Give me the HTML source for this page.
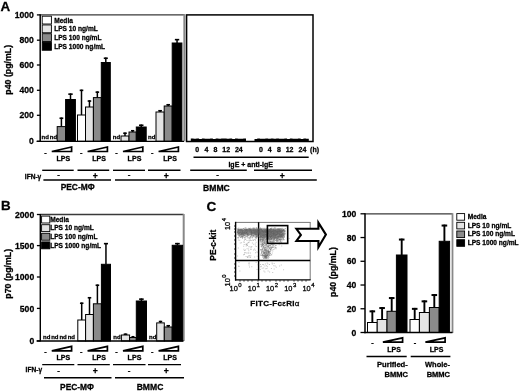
<!DOCTYPE html>
<html><head><meta charset="utf-8"><style>
html,body{margin:0;padding:0;background:#fff;width:520px;height:392px;overflow:hidden}
svg{display:block;filter:grayscale(1)}
text{font-family:"Liberation Sans", sans-serif;fill:#000;stroke:#000;stroke-width:0.28px}
</style></head><body>
<svg width="520" height="392" viewBox="0 0 520 392">
<text x="0.6" y="10.6" font-size="13.4" text-anchor="start" font-weight="bold" >A</text>
<line x1="40.5" y1="14.9" x2="184.5" y2="14.9" stroke="#3a3a3a" stroke-width="1.3"/>
<line x1="184.4" y1="14.2" x2="184.4" y2="141.4" stroke="#888" stroke-width="2.1"/>
<line x1="36.9" y1="141.3" x2="40.5" y2="141.3" stroke="#000" stroke-width="1.3"/>
<text x="33.8" y="144.4" font-size="8.6" text-anchor="end" font-weight="bold" >0</text>
<line x1="36.9" y1="115.3" x2="40.5" y2="115.3" stroke="#000" stroke-width="1.3"/>
<text x="33.8" y="118.39999999999999" font-size="8.6" text-anchor="end" font-weight="bold" >200</text>
<line x1="36.9" y1="90.3" x2="40.5" y2="90.3" stroke="#000" stroke-width="1.3"/>
<text x="33.8" y="93.39999999999999" font-size="8.6" text-anchor="end" font-weight="bold" >400</text>
<line x1="36.9" y1="65.0" x2="40.5" y2="65.0" stroke="#000" stroke-width="1.3"/>
<text x="33.8" y="68.1" font-size="8.6" text-anchor="end" font-weight="bold" >600</text>
<line x1="36.9" y1="40.2" x2="40.5" y2="40.2" stroke="#000" stroke-width="1.3"/>
<text x="33.8" y="43.300000000000004" font-size="8.6" text-anchor="end" font-weight="bold" >800</text>
<line x1="36.9" y1="14.9" x2="40.5" y2="14.9" stroke="#000" stroke-width="1.3"/>
<text x="33.8" y="18.0" font-size="8.6" text-anchor="end" font-weight="bold" >1000</text>
<rect x="42.2" y="16.2" width="9.2" height="7.8" fill="#ffffff" stroke="#000" stroke-width="0.9"/>
<text x="54.2" y="22.7" font-size="6.6" text-anchor="start" font-weight="bold" >Media</text>
<rect x="42.2" y="24.95" width="9.2" height="7.8" fill="#e4e4e4" stroke="#000" stroke-width="0.9"/>
<text x="54.2" y="31.45" font-size="6.6" text-anchor="start" font-weight="bold" >LPS 10 ng/mL</text>
<rect x="42.2" y="33.7" width="9.2" height="7.8" fill="#8a8a8a" stroke="#000" stroke-width="0.9"/>
<text x="54.2" y="40.2" font-size="6.6" text-anchor="start" font-weight="bold" >LPS 100 ng/mL</text>
<rect x="42.2" y="42.45" width="9.2" height="7.8" fill="#000000" stroke="#000" stroke-width="0.9"/>
<text x="54.2" y="48.95" font-size="6.6" text-anchor="start" font-weight="bold" >LPS 1000 ng/mL</text>
<line x1="61.4" y1="126.6" x2="61.4" y2="117.5" stroke="#000" stroke-width="1.5"/>
<line x1="59.51" y1="118.25" x2="63.29" y2="118.25" stroke="#000" stroke-width="1.6"/>
<rect x="57.2" y="126.6" width="8.399999999999991" height="14.700000000000017" fill="#8a8a8a" stroke="#000" stroke-width="1.0"/>
<line x1="70.5" y1="99.5" x2="70.5" y2="93.4" stroke="#000" stroke-width="1.5"/>
<line x1="68.295" y1="94.15" x2="72.705" y2="94.15" stroke="#000" stroke-width="1.6"/>
<rect x="65.6" y="99.5" width="9.800000000000011" height="41.80000000000001" fill="#000000" stroke="#000" stroke-width="1.0"/>
<line x1="81.5" y1="115.0" x2="81.5" y2="89.6" stroke="#000" stroke-width="1.5"/>
<line x1="79.7" y1="90.35" x2="83.3" y2="90.35" stroke="#000" stroke-width="1.6"/>
<rect x="77.5" y="115.0" width="8.0" height="26.30000000000001" fill="#ffffff" stroke="#000" stroke-width="1.0"/>
<line x1="89.45" y1="107.0" x2="89.45" y2="100.3" stroke="#000" stroke-width="1.5"/>
<line x1="87.6725" y1="101.05" x2="91.2275" y2="101.05" stroke="#000" stroke-width="1.6"/>
<rect x="85.5" y="107.0" width="7.900000000000006" height="34.30000000000001" fill="#e4e4e4" stroke="#000" stroke-width="1.0"/>
<line x1="97.35" y1="97.6" x2="97.35" y2="91.4" stroke="#000" stroke-width="1.5"/>
<line x1="95.57249999999999" y1="92.15" x2="99.1275" y2="92.15" stroke="#000" stroke-width="1.6"/>
<rect x="93.4" y="97.6" width="7.8999999999999915" height="43.70000000000002" fill="#8a8a8a" stroke="#000" stroke-width="1.0"/>
<line x1="105.8" y1="62.5" x2="105.8" y2="57.5" stroke="#000" stroke-width="1.5"/>
<line x1="103.77499999999999" y1="58.25" x2="107.825" y2="58.25" stroke="#000" stroke-width="1.6"/>
<rect x="101.3" y="62.5" width="9.0" height="78.80000000000001" fill="#000000" stroke="#000" stroke-width="1.0"/>
<line x1="125.0" y1="136.0" x2="125.0" y2="132.5" stroke="#000" stroke-width="1.5"/>
<line x1="123.2" y1="133.25" x2="126.8" y2="133.25" stroke="#000" stroke-width="1.6"/>
<rect x="121.0" y="136.0" width="8.0" height="5.300000000000011" fill="#e4e4e4" stroke="#000" stroke-width="1.0"/>
<line x1="132.65" y1="132.0" x2="132.65" y2="130.0" stroke="#000" stroke-width="1.5"/>
<line x1="131.0075" y1="130.75" x2="134.29250000000002" y2="130.75" stroke="#000" stroke-width="1.6"/>
<rect x="129.0" y="132.0" width="7.300000000000011" height="9.300000000000011" fill="#8a8a8a" stroke="#000" stroke-width="1.0"/>
<line x1="141.25" y1="127.0" x2="141.25" y2="124.5" stroke="#000" stroke-width="1.5"/>
<line x1="139.0225" y1="125.25" x2="143.4775" y2="125.25" stroke="#000" stroke-width="1.6"/>
<rect x="136.3" y="127.0" width="9.899999999999977" height="14.300000000000011" fill="#000000" stroke="#000" stroke-width="1.0"/>
<line x1="160.1" y1="112.0" x2="160.1" y2="110.0" stroke="#000" stroke-width="1.5"/>
<line x1="158.255" y1="110.75" x2="161.945" y2="110.75" stroke="#000" stroke-width="1.6"/>
<rect x="156.0" y="112.0" width="8.199999999999989" height="29.30000000000001" fill="#e4e4e4" stroke="#000" stroke-width="1.0"/>
<line x1="168.2" y1="106.0" x2="168.2" y2="104.0" stroke="#000" stroke-width="1.5"/>
<line x1="166.39999999999998" y1="104.75" x2="170.0" y2="104.75" stroke="#000" stroke-width="1.6"/>
<rect x="164.2" y="106.0" width="8.0" height="35.30000000000001" fill="#8a8a8a" stroke="#000" stroke-width="1.0"/>
<line x1="177.05" y1="43.0" x2="177.05" y2="38.9" stroke="#000" stroke-width="1.5"/>
<line x1="174.8675" y1="39.65" x2="179.23250000000002" y2="39.65" stroke="#000" stroke-width="1.6"/>
<rect x="172.2" y="43.0" width="9.700000000000017" height="98.30000000000001" fill="#000000" stroke="#000" stroke-width="1.0"/>
<text x="41.6" y="139.4" font-size="6.0" text-anchor="start" font-weight="bold" >nd</text>
<text x="49.8" y="139.4" font-size="6.0" text-anchor="start" font-weight="bold" >nd</text>
<text x="112.8" y="139.4" font-size="6.0" text-anchor="start" font-weight="bold" >nd</text>
<text x="148.0" y="139.4" font-size="6.0" text-anchor="start" font-weight="bold" >nd</text>
<line x1="40.2" y1="14.2" x2="40.2" y2="142.0" stroke="#000" stroke-width="1.5"/>
<line x1="36.6" y1="141.3" x2="184.0" y2="141.3" stroke="#000" stroke-width="1.3"/>
<rect x="186.6" y="14.9" width="126.4" height="126.6" fill="none" stroke="#000" stroke-width="1.5"/>
<polygon points="190.80,141.2 190.80,138.62 193.56,138.62 193.56,138.80 196.32,138.80 196.32,138.42 199.08,138.42 199.08,138.90 201.84,138.90 201.84,138.46 204.60,138.46 204.60,138.73 207.36,138.73 207.36,138.70 210.12,138.70 210.12,138.48 212.88,138.48 212.88,138.89 215.64,138.89 215.64,138.41 218.40,138.41 218.40,138.82 221.16,138.82 221.16,138.59 223.92,138.59 223.92,138.57 226.68,138.57 226.68,138.84 229.44,138.84 229.44,138.40 232.20,138.40 232.20,138.88 234.96,138.88 234.96,138.50 237.72,138.50 237.72,138.68 240.48,138.68 240.48,138.75 243.24,138.75 243.24,138.44 246.00,138.44 246.00,141.2" fill="#000"/>
<polygon points="254.50,141.2 254.50,138.90 257.21,138.90 257.21,138.43 259.93,138.43 259.93,138.78 262.64,138.78 262.64,138.65 265.36,138.65 265.36,138.52 268.07,138.52 268.07,138.87 270.79,138.87 270.79,138.40 273.50,138.40 273.50,138.86 276.22,138.86 276.22,138.54 278.94,138.54 278.94,138.63 281.65,138.63 281.65,138.80 284.37,138.80 284.37,138.42 287.08,138.42 287.08,138.90 289.80,138.90 289.80,138.46 292.51,138.46 292.51,138.73 295.23,138.73 295.23,138.70 297.94,138.70 297.94,138.48 300.66,138.48 300.66,138.89 303.37,138.89 303.37,138.41 306.09,138.41 306.09,138.82 308.80,138.82 308.80,141.2" fill="#000"/>
<text x="197.2" y="152.4" font-size="7.0" text-anchor="middle" font-weight="bold" >0</text>
<text x="206.4" y="152.4" font-size="7.0" text-anchor="middle" font-weight="bold" >4</text>
<text x="215.4" y="152.4" font-size="7.0" text-anchor="middle" font-weight="bold" >8</text>
<text x="226.2" y="152.4" font-size="7.0" text-anchor="middle" font-weight="bold" >12</text>
<text x="238.8" y="152.4" font-size="7.0" text-anchor="middle" font-weight="bold" >24</text>
<text x="261.0" y="152.4" font-size="7.0" text-anchor="middle" font-weight="bold" >0</text>
<text x="269.7" y="152.4" font-size="7.0" text-anchor="middle" font-weight="bold" >4</text>
<text x="279.0" y="152.4" font-size="7.0" text-anchor="middle" font-weight="bold" >8</text>
<text x="289.6" y="152.4" font-size="7.0" text-anchor="middle" font-weight="bold" >12</text>
<text x="302.4" y="152.4" font-size="7.0" text-anchor="middle" font-weight="bold" >24</text>
<text x="314.6" y="152.4" font-size="7.0" text-anchor="middle" font-weight="bold" >(h)</text>
<line x1="193.5" y1="157.2" x2="308.7" y2="157.2" stroke="#000" stroke-width="1.4"/>
<text x="250.7" y="167.2" font-size="7.0" text-anchor="middle" font-weight="bold" >IgE + anti-IgE</text>
<text x="45.4" y="154.6" font-size="7.4" text-anchor="middle" font-weight="bold" >-</text>
<path d="M51.8 151.5 L71.6 147.0 L71.6 151.5 Z" fill="#fff" stroke="#000" stroke-width="1.7" stroke-linejoin="miter"/>
<text x="63.3" y="160.5" font-size="7.1" text-anchor="middle" font-weight="bold" >LPS</text>
<text x="81.19999999999999" y="154.6" font-size="7.4" text-anchor="middle" font-weight="bold" >-</text>
<path d="M87.6 151.5 L107.39999999999999 147.0 L107.39999999999999 151.5 Z" fill="#fff" stroke="#000" stroke-width="1.7" stroke-linejoin="miter"/>
<text x="99.1" y="160.5" font-size="7.1" text-anchor="middle" font-weight="bold" >LPS</text>
<text x="116.6" y="154.6" font-size="7.4" text-anchor="middle" font-weight="bold" >-</text>
<path d="M123.0 151.5 L142.8 147.0 L142.8 151.5 Z" fill="#fff" stroke="#000" stroke-width="1.7" stroke-linejoin="miter"/>
<text x="134.5" y="160.5" font-size="7.1" text-anchor="middle" font-weight="bold" >LPS</text>
<text x="152.2" y="154.6" font-size="7.4" text-anchor="middle" font-weight="bold" >-</text>
<path d="M158.6 151.5 L178.39999999999998 147.0 L178.39999999999998 151.5 Z" fill="#fff" stroke="#000" stroke-width="1.7" stroke-linejoin="miter"/>
<text x="170.1" y="160.5" font-size="7.1" text-anchor="middle" font-weight="bold" >LPS</text>
<line x1="42.2" y1="170.3" x2="73.7" y2="170.3" stroke="#000" stroke-width="1.4"/>
<line x1="77.5" y1="170.3" x2="109.2" y2="170.3" stroke="#000" stroke-width="1.4"/>
<line x1="113.0" y1="170.3" x2="145.0" y2="170.3" stroke="#000" stroke-width="1.4"/>
<line x1="148.0" y1="170.3" x2="180.5" y2="170.3" stroke="#000" stroke-width="1.4"/>
<line x1="190.2" y1="170.3" x2="246.8" y2="170.3" stroke="#000" stroke-width="1.4"/>
<line x1="254.0" y1="170.3" x2="312.0" y2="170.3" stroke="#000" stroke-width="1.4"/>
<text x="24.8" y="179.0" font-size="6.6" text-anchor="start" font-weight="bold" >IFN-γ</text>
<text x="58.5" y="177.0" font-size="8.0" text-anchor="middle" font-weight="bold" >-</text>
<text x="95.3" y="178.9" font-size="8.6" text-anchor="middle" font-weight="bold" >+</text>
<text x="129.0" y="177.0" font-size="8.0" text-anchor="middle" font-weight="bold" >-</text>
<text x="166.3" y="178.9" font-size="8.6" text-anchor="middle" font-weight="bold" >+</text>
<text x="217.7" y="177.0" font-size="8.0" text-anchor="middle" font-weight="bold" >-</text>
<text x="282.3" y="178.9" font-size="8.6" text-anchor="middle" font-weight="bold" >+</text>
<line x1="43.4" y1="180.1" x2="111.0" y2="180.1" stroke="#000" stroke-width="1.5"/>
<line x1="115.0" y1="180.1" x2="316.8" y2="180.1" stroke="#000" stroke-width="1.5"/>
<text x="77.6" y="190.3" font-size="8.4" text-anchor="middle" font-weight="bold" >PEC-MΦ</text>
<text x="216.4" y="191.4" font-size="8.6" text-anchor="middle" font-weight="bold" >BMMC</text>
<text x="0" y="0" font-size="8.8" font-weight="bold" text-anchor="middle" transform="translate(10.9,69.8) rotate(-90)">p40 (pg/mL)</text>
<text x="0.9" y="210.2" font-size="13.4" text-anchor="start" font-weight="bold" >B</text>
<line x1="40.0" y1="214.5" x2="183.7" y2="214.5" stroke="#3a3a3a" stroke-width="1.3"/>
<line x1="183.7" y1="214.0" x2="183.7" y2="341.0" stroke="#888" stroke-width="2.0"/>
<line x1="36.9" y1="340.9" x2="40.0" y2="340.9" stroke="#000" stroke-width="1.3"/>
<text x="34.2" y="344.0" font-size="8.6" text-anchor="end" font-weight="bold" >0</text>
<line x1="36.9" y1="308.4" x2="40.0" y2="308.4" stroke="#000" stroke-width="1.3"/>
<text x="34.2" y="311.5" font-size="8.6" text-anchor="end" font-weight="bold" >500</text>
<line x1="36.9" y1="277.0" x2="40.0" y2="277.0" stroke="#000" stroke-width="1.3"/>
<text x="34.2" y="280.1" font-size="8.6" text-anchor="end" font-weight="bold" >1000</text>
<line x1="36.9" y1="245.6" x2="40.0" y2="245.6" stroke="#000" stroke-width="1.3"/>
<text x="34.2" y="248.7" font-size="8.6" text-anchor="end" font-weight="bold" >1500</text>
<line x1="36.9" y1="214.5" x2="40.0" y2="214.5" stroke="#000" stroke-width="1.3"/>
<text x="34.2" y="217.6" font-size="8.6" text-anchor="end" font-weight="bold" >2000</text>
<rect x="41.6" y="216.1" width="8.2" height="6.9" fill="#ffffff" stroke="#000" stroke-width="0.9"/>
<text x="50.2" y="221.7" font-size="6.6" text-anchor="start" font-weight="bold" >Media</text>
<rect x="41.6" y="224.7" width="8.2" height="6.9" fill="#e4e4e4" stroke="#000" stroke-width="0.9"/>
<text x="50.2" y="230.29999999999998" font-size="6.6" text-anchor="start" font-weight="bold" >LPS 10 ng/mL</text>
<rect x="41.6" y="233.29999999999998" width="8.2" height="6.9" fill="#8a8a8a" stroke="#000" stroke-width="0.9"/>
<text x="50.2" y="238.89999999999998" font-size="6.6" text-anchor="start" font-weight="bold" >LPS 100 ng/mL</text>
<rect x="41.6" y="241.89999999999998" width="8.2" height="6.9" fill="#000000" stroke="#000" stroke-width="0.9"/>
<text x="50.2" y="247.49999999999997" font-size="6.6" text-anchor="start" font-weight="bold" >LPS 1000 ng/mL</text>
<line x1="81.69999999999999" y1="320.0" x2="81.69999999999999" y2="302.5" stroke="#000" stroke-width="1.5"/>
<line x1="79.945" y1="303.25" x2="83.45499999999998" y2="303.25" stroke="#000" stroke-width="1.6"/>
<rect x="77.8" y="320.0" width="7.799999999999997" height="21.0" fill="#ffffff" stroke="#000" stroke-width="1.0"/>
<line x1="89.5" y1="314.5" x2="89.5" y2="297.0" stroke="#000" stroke-width="1.5"/>
<line x1="87.745" y1="297.75" x2="91.255" y2="297.75" stroke="#000" stroke-width="1.6"/>
<rect x="85.6" y="314.5" width="7.800000000000011" height="26.5" fill="#e4e4e4" stroke="#000" stroke-width="1.0"/>
<line x1="97.4" y1="303.8" x2="97.4" y2="284.5" stroke="#000" stroke-width="1.5"/>
<line x1="95.60000000000001" y1="285.25" x2="99.2" y2="285.25" stroke="#000" stroke-width="1.6"/>
<rect x="93.4" y="303.8" width="8.0" height="37.19999999999999" fill="#8a8a8a" stroke="#000" stroke-width="1.0"/>
<line x1="105.95" y1="264.3" x2="105.95" y2="242.9" stroke="#000" stroke-width="1.5"/>
<line x1="103.9025" y1="243.65" x2="107.9975" y2="243.65" stroke="#000" stroke-width="1.6"/>
<rect x="101.4" y="264.3" width="9.099999999999994" height="76.69999999999999" fill="#000000" stroke="#000" stroke-width="1.0"/>
<line x1="125.5" y1="335.0" x2="125.5" y2="333.5" stroke="#000" stroke-width="1.5"/>
<line x1="123.655" y1="334.25" x2="127.345" y2="334.25" stroke="#000" stroke-width="1.6"/>
<rect x="121.4" y="335.0" width="8.199999999999989" height="6.0" fill="#e4e4e4" stroke="#000" stroke-width="1.0"/>
<line x1="132.95" y1="337.5" x2="132.95" y2="336.0" stroke="#000" stroke-width="1.5"/>
<line x1="131.4425" y1="336.75" x2="134.45749999999998" y2="336.75" stroke="#000" stroke-width="1.6"/>
<rect x="129.6" y="337.5" width="6.700000000000017" height="3.5" fill="#8a8a8a" stroke="#000" stroke-width="1.0"/>
<line x1="141.4" y1="301.0" x2="141.4" y2="298.4" stroke="#000" stroke-width="1.5"/>
<line x1="139.10500000000002" y1="299.15" x2="143.695" y2="299.15" stroke="#000" stroke-width="1.6"/>
<rect x="136.3" y="301.0" width="10.199999999999989" height="40.0" fill="#000000" stroke="#000" stroke-width="1.0"/>
<line x1="160.5" y1="322.9" x2="160.5" y2="320.8" stroke="#000" stroke-width="1.5"/>
<line x1="158.79" y1="321.55" x2="162.21" y2="321.55" stroke="#000" stroke-width="1.6"/>
<rect x="156.7" y="322.9" width="7.600000000000023" height="18.100000000000023" fill="#e4e4e4" stroke="#000" stroke-width="1.0"/>
<line x1="168.25" y1="327.0" x2="168.25" y2="325.0" stroke="#000" stroke-width="1.5"/>
<line x1="166.4725" y1="325.75" x2="170.0275" y2="325.75" stroke="#000" stroke-width="1.6"/>
<rect x="164.3" y="327.0" width="7.899999999999977" height="14.0" fill="#8a8a8a" stroke="#000" stroke-width="1.0"/>
<line x1="177.39999999999998" y1="245.3" x2="177.39999999999998" y2="242.9" stroke="#000" stroke-width="1.5"/>
<line x1="175.05999999999997" y1="243.65" x2="179.73999999999998" y2="243.65" stroke="#000" stroke-width="1.6"/>
<rect x="172.2" y="245.3" width="10.400000000000006" height="95.69999999999999" fill="#000000" stroke="#000" stroke-width="1.0"/>
<text x="43.0" y="338.9" font-size="6.0" text-anchor="start" font-weight="bold" >nd</text>
<text x="51.2" y="338.9" font-size="6.0" text-anchor="start" font-weight="bold" >nd</text>
<text x="59.4" y="338.9" font-size="6.0" text-anchor="start" font-weight="bold" >nd</text>
<text x="67.7" y="338.9" font-size="6.0" text-anchor="start" font-weight="bold" >nd</text>
<text x="113.3" y="338.9" font-size="6.0" text-anchor="start" font-weight="bold" >nd</text>
<text x="149.0" y="338.9" font-size="6.0" text-anchor="start" font-weight="bold" >nd</text>
<line x1="40.3" y1="214.0" x2="40.3" y2="341.6" stroke="#000" stroke-width="1.4"/>
<line x1="36.6" y1="341.0" x2="183.5" y2="341.0" stroke="#000" stroke-width="1.3"/>
<text x="45.4" y="354.2" font-size="7.4" text-anchor="middle" font-weight="bold" >-</text>
<path d="M51.8 350.8 L71.6 346.4 L71.6 350.8 Z" fill="#fff" stroke="#000" stroke-width="1.7" stroke-linejoin="miter"/>
<text x="63.3" y="359.6" font-size="7.1" text-anchor="middle" font-weight="bold" >LPS</text>
<text x="81.19999999999999" y="354.2" font-size="7.4" text-anchor="middle" font-weight="bold" >-</text>
<path d="M87.6 350.8 L107.39999999999999 346.4 L107.39999999999999 350.8 Z" fill="#fff" stroke="#000" stroke-width="1.7" stroke-linejoin="miter"/>
<text x="99.1" y="359.6" font-size="7.1" text-anchor="middle" font-weight="bold" >LPS</text>
<text x="116.6" y="354.2" font-size="7.4" text-anchor="middle" font-weight="bold" >-</text>
<path d="M123.0 350.8 L142.8 346.4 L142.8 350.8 Z" fill="#fff" stroke="#000" stroke-width="1.7" stroke-linejoin="miter"/>
<text x="134.5" y="359.6" font-size="7.1" text-anchor="middle" font-weight="bold" >LPS</text>
<text x="152.2" y="354.2" font-size="7.4" text-anchor="middle" font-weight="bold" >-</text>
<path d="M158.6 350.8 L178.39999999999998 346.4 L178.39999999999998 350.8 Z" fill="#fff" stroke="#000" stroke-width="1.7" stroke-linejoin="miter"/>
<text x="170.1" y="359.6" font-size="7.1" text-anchor="middle" font-weight="bold" >LPS</text>
<line x1="42.2" y1="364.6" x2="74.3" y2="364.6" stroke="#000" stroke-width="1.4"/>
<line x1="77.5" y1="364.6" x2="109.8" y2="364.6" stroke="#000" stroke-width="1.4"/>
<line x1="113.0" y1="364.6" x2="145.5" y2="364.6" stroke="#000" stroke-width="1.4"/>
<line x1="148.0" y1="364.6" x2="181.0" y2="364.6" stroke="#000" stroke-width="1.4"/>
<text x="25.6" y="372.2" font-size="6.6" text-anchor="start" font-weight="bold" >IFN-γ</text>
<text x="58.5" y="372.5" font-size="8.0" text-anchor="middle" font-weight="bold" >-</text>
<text x="95.3" y="374.1" font-size="8.6" text-anchor="middle" font-weight="bold" >+</text>
<text x="129.0" y="372.5" font-size="8.0" text-anchor="middle" font-weight="bold" >-</text>
<text x="166.3" y="374.1" font-size="8.6" text-anchor="middle" font-weight="bold" >+</text>
<line x1="44.0" y1="377.8" x2="111.5" y2="377.8" stroke="#000" stroke-width="1.5"/>
<line x1="115.0" y1="377.8" x2="184.0" y2="377.8" stroke="#000" stroke-width="1.5"/>
<text x="77.0" y="390.3" font-size="8.4" text-anchor="middle" font-weight="bold" >PEC-MΦ</text>
<text x="150.0" y="390.3" font-size="8.6" text-anchor="middle" font-weight="bold" >BMMC</text>
<text x="0" y="0" font-size="8.8" font-weight="bold" text-anchor="middle" transform="translate(10.9,273.8) rotate(-90)">p70 (pg/mL)</text>
<text x="206.5" y="210.6" font-size="13.6" text-anchor="start" font-weight="bold" >C</text>
<line x1="235.6" y1="222.4" x2="310.2" y2="222.4" stroke="#777" stroke-width="1.0"/>
<line x1="310.2" y1="222.0" x2="310.2" y2="280.0" stroke="#777" stroke-width="1.0"/>
<line x1="235.6" y1="221.8" x2="235.6" y2="280.6" stroke="#000" stroke-width="1.4"/>
<line x1="235.0" y1="279.8" x2="310.6" y2="279.8" stroke="#000" stroke-width="1.3"/>
<line x1="258.6" y1="222.2" x2="258.6" y2="280.2" stroke="#000" stroke-width="1.4"/>
<line x1="235.6" y1="260.5" x2="310.2" y2="260.5" stroke="#000" stroke-width="1.4"/>
<text x="0" y="0" font-size="8.3" font-weight="bold" text-anchor="middle" transform="translate(215.8,245.2) rotate(-90)">PE-c-kit</text>
<text x="250.2" y="305.8" font-size="8.0" font-weight="bold" textLength="49.2" lengthAdjust="spacing">FITC-Fc<tspan font-weight="normal">ε</tspan>RI<tspan font-weight="normal">α</tspan></text>
<path d="M242.8 234.0h1v1h-1zM240.6 231.5h1v1h-1zM272.7 233.9h1v1h-1zM274.8 229.6h1v1h-1zM271.7 228.7h1v1h-1zM280.7 231.0h1v1h-1zM266.8 231.8h1v1h-1zM261.4 230.7h1v1h-1zM270.4 234.8h1v1h-1zM257.9 228.3h1v1h-1zM268.7 231.2h1v1h-1zM277.1 230.8h1v1h-1zM274.7 228.7h1v1h-1zM244.0 229.3h1v1h-1zM274.4 234.3h1v1h-1zM276.0 229.7h1v1h-1zM250.6 229.3h1v1h-1zM279.5 235.7h1v1h-1zM281.9 236.4h1v1h-1zM249.3 230.7h1v1h-1zM261.8 236.7h1v1h-1zM270.9 230.5h1v1h-1zM238.1 230.8h1v1h-1zM240.2 232.3h1v1h-1zM276.8 230.5h1v1h-1zM279.6 230.5h1v1h-1zM265.8 233.6h1v1h-1zM241.3 233.3h1v1h-1zM251.1 231.0h1v1h-1zM273.6 233.6h1v1h-1zM263.2 237.1h1v1h-1zM273.6 236.6h1v1h-1zM259.0 232.0h1v1h-1zM280.6 236.0h1v1h-1zM249.5 229.1h1v1h-1zM278.6 234.3h1v1h-1zM266.0 238.1h1v1h-1zM245.4 229.3h1v1h-1zM275.8 234.2h1v1h-1zM267.1 230.8h1v1h-1zM261.0 230.9h1v1h-1zM270.7 231.0h1v1h-1zM247.3 229.3h1v1h-1zM280.0 230.7h1v1h-1zM248.2 234.3h1v1h-1zM240.6 229.4h1v1h-1zM272.9 228.7h1v1h-1zM272.1 230.8h1v1h-1zM250.8 229.9h1v1h-1zM246.5 240.0h1v1h-1zM270.5 234.5h1v1h-1zM238.1 235.2h1v1h-1zM265.4 231.8h1v1h-1zM275.9 233.9h1v1h-1zM276.5 231.1h1v1h-1zM245.9 231.6h1v1h-1zM264.0 229.2h1v1h-1zM261.3 231.4h1v1h-1zM271.8 235.3h1v1h-1zM270.1 237.3h1v1h-1zM257.4 229.5h1v1h-1zM241.3 231.2h1v1h-1zM260.8 228.9h1v1h-1zM244.8 229.6h1v1h-1zM264.4 230.5h1v1h-1zM241.3 235.0h1v1h-1zM284.2 233.6h1v1h-1zM271.4 230.8h1v1h-1zM253.9 229.3h1v1h-1zM252.8 229.4h1v1h-1zM254.3 231.5h1v1h-1zM245.6 231.6h1v1h-1zM258.9 231.0h1v1h-1zM274.5 232.7h1v1h-1zM269.9 231.0h1v1h-1zM276.5 231.3h1v1h-1zM272.9 228.7h1v1h-1zM244.3 238.5h1v1h-1zM276.7 237.1h1v1h-1zM256.0 230.6h1v1h-1zM248.5 231.1h1v1h-1zM271.0 234.5h1v1h-1zM238.7 230.5h1v1h-1zM254.4 227.6h1v1h-1zM261.4 231.6h1v1h-1zM258.0 230.2h1v1h-1zM253.1 231.8h1v1h-1zM272.5 231.8h1v1h-1zM273.1 231.0h1v1h-1zM256.1 230.5h1v1h-1zM273.7 232.5h1v1h-1zM239.9 232.4h1v1h-1zM260.1 229.2h1v1h-1zM275.3 231.3h1v1h-1zM265.9 231.6h1v1h-1zM263.3 240.4h1v1h-1zM255.5 232.0h1v1h-1zM244.6 231.2h1v1h-1zM247.5 230.8h1v1h-1zM281.5 230.8h1v1h-1zM281.5 230.5h1v1h-1zM263.9 241.2h1v1h-1zM261.4 228.8h1v1h-1zM264.3 230.1h1v1h-1zM265.0 232.6h1v1h-1zM275.9 229.5h1v1h-1zM277.4 232.6h1v1h-1zM276.5 235.5h1v1h-1zM255.8 237.9h1v1h-1zM284.4 231.4h1v1h-1zM273.8 229.4h1v1h-1zM283.1 233.1h1v1h-1zM282.8 229.0h1v1h-1zM241.6 231.8h1v1h-1zM251.3 233.4h1v1h-1zM271.0 232.3h1v1h-1zM269.7 230.9h1v1h-1zM282.0 230.5h1v1h-1zM264.2 230.3h1v1h-1zM253.5 227.6h1v1h-1zM259.7 228.3h1v1h-1zM259.3 230.1h1v1h-1zM271.8 228.8h1v1h-1zM245.9 229.6h1v1h-1zM271.5 233.0h1v1h-1zM263.6 228.2h1v1h-1zM279.1 229.2h1v1h-1zM256.2 232.1h1v1h-1zM254.9 238.4h1v1h-1zM256.8 229.7h1v1h-1zM267.2 231.7h1v1h-1zM250.1 231.6h1v1h-1zM246.2 229.0h1v1h-1zM266.2 235.1h1v1h-1zM267.0 231.7h1v1h-1zM254.5 231.7h1v1h-1zM273.1 233.5h1v1h-1zM281.7 229.4h1v1h-1zM259.1 232.6h1v1h-1zM246.7 230.5h1v1h-1zM276.9 230.4h1v1h-1zM242.0 237.6h1v1h-1zM258.2 232.6h1v1h-1zM272.4 230.9h1v1h-1zM240.0 228.8h1v1h-1zM269.3 235.4h1v1h-1zM255.9 236.3h1v1h-1zM277.3 239.6h1v1h-1zM283.5 236.9h1v1h-1zM281.3 239.0h1v1h-1zM237.8 230.9h1v1h-1zM262.8 235.3h1v1h-1zM258.7 229.3h1v1h-1zM258.8 231.2h1v1h-1zM257.2 228.4h1v1h-1zM280.9 234.0h1v1h-1zM243.1 231.8h1v1h-1zM260.3 234.6h1v1h-1zM269.3 230.0h1v1h-1zM240.8 229.9h1v1h-1zM278.5 236.2h1v1h-1zM279.8 231.5h1v1h-1zM264.5 227.7h1v1h-1zM255.9 237.8h1v1h-1zM244.4 234.9h1v1h-1zM259.1 229.5h1v1h-1zM264.4 233.9h1v1h-1zM263.8 239.3h1v1h-1zM269.8 235.0h1v1h-1zM249.6 232.9h1v1h-1zM273.1 233.5h1v1h-1zM240.0 231.4h1v1h-1zM243.1 229.9h1v1h-1zM274.2 229.2h1v1h-1zM257.0 233.0h1v1h-1zM263.7 241.8h1v1h-1zM257.9 229.1h1v1h-1zM281.6 231.2h1v1h-1zM267.4 237.3h1v1h-1zM259.8 235.4h1v1h-1zM266.5 228.4h1v1h-1zM255.0 232.7h1v1h-1zM251.2 240.1h1v1h-1zM272.8 232.2h1v1h-1zM275.2 233.7h1v1h-1zM255.8 237.6h1v1h-1zM242.1 232.1h1v1h-1zM285.0 228.1h1v1h-1zM249.6 230.7h1v1h-1zM274.3 229.9h1v1h-1zM261.0 230.3h1v1h-1zM263.4 227.8h1v1h-1zM248.8 230.7h1v1h-1zM273.2 230.0h1v1h-1zM237.6 228.9h1v1h-1zM261.1 229.3h1v1h-1zM273.0 235.2h1v1h-1zM264.1 229.6h1v1h-1zM275.0 232.1h1v1h-1zM274.3 233.6h1v1h-1zM252.9 232.4h1v1h-1zM277.8 231.5h1v1h-1zM280.7 235.3h1v1h-1zM261.5 228.9h1v1h-1zM250.1 234.1h1v1h-1zM269.6 232.7h1v1h-1zM279.2 231.0h1v1h-1zM271.9 228.2h1v1h-1zM265.1 228.9h1v1h-1zM243.5 233.1h1v1h-1zM250.2 231.6h1v1h-1zM248.2 233.5h1v1h-1zM282.7 228.7h1v1h-1zM269.5 236.3h1v1h-1zM246.2 229.4h1v1h-1zM279.0 233.1h1v1h-1zM258.1 231.1h1v1h-1zM259.9 229.5h1v1h-1zM239.1 233.5h1v1h-1zM266.6 229.8h1v1h-1zM251.1 229.6h1v1h-1zM272.9 230.5h1v1h-1zM237.7 231.9h1v1h-1zM275.8 235.6h1v1h-1zM260.0 232.3h1v1h-1zM239.8 229.6h1v1h-1zM262.3 230.2h1v1h-1zM250.9 234.4h1v1h-1zM248.4 228.2h1v1h-1zM246.4 230.0h1v1h-1zM275.4 231.3h1v1h-1zM238.2 228.4h1v1h-1zM274.9 230.6h1v1h-1zM242.7 229.4h1v1h-1zM267.9 234.0h1v1h-1zM266.3 229.7h1v1h-1zM267.7 231.8h1v1h-1zM268.4 233.4h1v1h-1zM262.8 237.5h1v1h-1zM263.6 231.2h1v1h-1zM276.6 237.8h1v1h-1zM240.1 228.3h1v1h-1zM258.2 232.2h1v1h-1zM265.9 234.3h1v1h-1zM251.3 231.8h1v1h-1zM270.0 232.4h1v1h-1zM256.8 235.3h1v1h-1zM260.6 231.2h1v1h-1zM258.3 234.0h1v1h-1zM273.9 230.6h1v1h-1zM282.4 235.1h1v1h-1zM268.9 235.4h1v1h-1zM258.6 233.4h1v1h-1zM243.0 229.9h1v1h-1zM256.2 234.3h1v1h-1zM253.1 230.1h1v1h-1zM258.4 232.9h1v1h-1zM261.0 233.1h1v1h-1zM256.4 232.0h1v1h-1zM238.0 233.2h1v1h-1zM275.2 231.1h1v1h-1zM274.1 231.2h1v1h-1zM271.0 235.9h1v1h-1zM277.0 230.7h1v1h-1zM275.6 230.6h1v1h-1zM264.3 231.3h1v1h-1zM273.3 230.0h1v1h-1zM263.8 231.1h1v1h-1zM273.0 232.2h1v1h-1zM265.9 236.9h1v1h-1zM266.3 235.5h1v1h-1zM277.5 233.9h1v1h-1zM263.4 232.3h1v1h-1zM260.2 232.6h1v1h-1zM277.3 228.0h1v1h-1zM262.1 231.4h1v1h-1zM240.5 230.7h1v1h-1zM254.3 232.9h1v1h-1zM277.8 230.6h1v1h-1zM279.7 233.6h1v1h-1zM273.5 233.6h1v1h-1zM263.6 231.4h1v1h-1zM274.7 232.3h1v1h-1zM272.5 240.2h1v1h-1zM280.7 229.4h1v1h-1zM260.3 231.7h1v1h-1zM252.7 229.5h1v1h-1zM279.2 234.4h1v1h-1zM256.9 230.8h1v1h-1zM266.0 229.2h1v1h-1zM257.0 236.1h1v1h-1zM238.3 227.6h1v1h-1zM258.4 230.0h1v1h-1zM247.8 231.5h1v1h-1zM258.7 230.2h1v1h-1zM236.8 233.8h1v1h-1zM261.1 230.4h1v1h-1zM265.7 228.8h1v1h-1zM272.7 229.1h1v1h-1zM260.3 229.8h1v1h-1zM281.1 231.2h1v1h-1zM238.8 233.0h1v1h-1zM283.9 233.4h1v1h-1zM242.0 233.8h1v1h-1zM265.6 228.6h1v1h-1zM272.8 231.5h1v1h-1zM280.9 238.9h1v1h-1zM238.1 230.0h1v1h-1zM274.0 235.7h1v1h-1zM272.8 230.4h1v1h-1zM255.8 236.3h1v1h-1zM264.9 230.7h1v1h-1zM275.5 231.3h1v1h-1zM247.0 230.7h1v1h-1zM257.7 230.7h1v1h-1zM242.2 232.9h1v1h-1zM263.7 239.2h1v1h-1zM269.4 228.2h1v1h-1zM244.2 229.2h1v1h-1zM260.5 236.3h1v1h-1zM242.0 230.4h1v1h-1zM270.7 228.7h1v1h-1zM265.4 234.1h1v1h-1zM281.2 229.8h1v1h-1zM284.1 230.5h1v1h-1zM280.9 229.2h1v1h-1zM247.8 233.9h1v1h-1zM269.0 232.5h1v1h-1zM281.5 233.0h1v1h-1zM245.9 232.2h1v1h-1zM254.9 229.7h1v1h-1zM267.3 230.4h1v1h-1zM260.3 234.9h1v1h-1zM241.5 230.6h1v1h-1zM281.1 235.5h1v1h-1zM279.3 232.8h1v1h-1zM273.8 230.4h1v1h-1zM276.6 239.6h1v1h-1zM276.8 233.3h1v1h-1zM279.3 228.8h1v1h-1zM263.1 241.9h1v1h-1zM255.3 234.2h1v1h-1zM252.8 230.4h1v1h-1zM271.0 230.1h1v1h-1zM275.2 230.3h1v1h-1zM280.1 230.3h1v1h-1zM261.7 230.2h1v1h-1zM270.5 232.6h1v1h-1zM265.6 234.4h1v1h-1zM270.9 228.7h1v1h-1zM276.0 235.1h1v1h-1zM248.0 233.6h1v1h-1zM277.9 232.7h1v1h-1zM271.1 231.3h1v1h-1zM277.7 235.2h1v1h-1zM240.1 232.0h1v1h-1zM254.7 233.9h1v1h-1zM262.9 233.9h1v1h-1zM279.1 229.9h1v1h-1zM253.2 232.0h1v1h-1zM274.5 237.2h1v1h-1zM276.7 232.0h1v1h-1zM254.5 232.9h1v1h-1zM255.2 230.2h1v1h-1zM266.0 230.3h1v1h-1zM270.7 231.5h1v1h-1zM271.1 228.1h1v1h-1zM251.7 230.1h1v1h-1zM274.7 229.4h1v1h-1zM258.5 228.3h1v1h-1zM253.0 227.5h1v1h-1zM262.9 232.6h1v1h-1zM256.1 229.3h1v1h-1zM241.9 232.2h1v1h-1zM270.3 229.4h1v1h-1zM269.7 228.5h1v1h-1zM269.6 233.3h1v1h-1zM261.5 229.7h1v1h-1zM283.0 238.0h1v1h-1zM239.6 231.3h1v1h-1zM280.6 232.5h1v1h-1zM240.7 231.1h1v1h-1zM258.5 233.1h1v1h-1zM284.6 230.2h1v1h-1zM246.5 230.5h1v1h-1zM238.3 235.3h1v1h-1zM240.1 232.6h1v1h-1zM250.1 228.8h1v1h-1zM255.4 231.5h1v1h-1zM243.7 232.0h1v1h-1zM282.4 236.7h1v1h-1zM283.6 230.1h1v1h-1zM278.5 234.6h1v1h-1zM265.3 233.5h1v1h-1zM270.7 232.2h1v1h-1zM246.5 232.0h1v1h-1zM277.9 233.0h1v1h-1zM263.2 236.5h1v1h-1zM271.5 235.0h1v1h-1zM276.0 235.5h1v1h-1zM271.0 235.6h1v1h-1zM273.3 235.2h1v1h-1zM276.9 240.5h1v1h-1zM270.7 232.9h1v1h-1zM268.6 239.5h1v1h-1zM273.8 233.8h1v1h-1zM262.0 231.0h1v1h-1zM279.0 233.0h1v1h-1zM259.9 233.0h1v1h-1zM263.3 239.1h1v1h-1zM269.2 233.1h1v1h-1zM261.8 237.9h1v1h-1zM272.5 239.1h1v1h-1zM260.1 239.4h1v1h-1zM282.3 236.7h1v1h-1zM269.5 229.7h1v1h-1zM267.4 234.0h1v1h-1zM265.1 231.2h1v1h-1zM267.6 235.8h1v1h-1zM278.9 239.6h1v1h-1zM273.4 238.6h1v1h-1zM273.5 233.2h1v1h-1zM276.2 237.6h1v1h-1zM265.2 229.5h1v1h-1zM268.9 231.4h1v1h-1zM282.6 230.7h1v1h-1zM260.4 234.6h1v1h-1zM269.3 237.5h1v1h-1zM266.1 233.4h1v1h-1zM281.7 234.9h1v1h-1zM277.9 230.9h1v1h-1zM271.0 235.3h1v1h-1zM269.1 230.9h1v1h-1zM279.2 233.1h1v1h-1zM277.4 228.5h1v1h-1zM268.8 230.8h1v1h-1zM278.6 229.3h1v1h-1zM270.5 236.6h1v1h-1zM279.3 231.9h1v1h-1zM278.3 235.7h1v1h-1zM280.3 234.7h1v1h-1zM262.0 241.5h1v1h-1zM272.7 236.1h1v1h-1zM273.9 230.9h1v1h-1zM276.8 231.9h1v1h-1zM271.4 233.6h1v1h-1zM265.9 232.4h1v1h-1zM278.3 233.4h1v1h-1zM261.4 232.5h1v1h-1zM275.2 236.9h1v1h-1zM265.9 238.5h1v1h-1zM274.5 236.4h1v1h-1zM271.0 233.7h1v1h-1zM265.9 235.9h1v1h-1zM261.5 235.5h1v1h-1zM260.3 233.3h1v1h-1zM268.2 233.9h1v1h-1zM281.0 235.3h1v1h-1zM269.0 237.3h1v1h-1zM268.2 234.2h1v1h-1zM263.2 231.3h1v1h-1zM272.7 232.6h1v1h-1zM274.6 235.4h1v1h-1zM276.1 235.3h1v1h-1zM279.0 233.3h1v1h-1zM277.8 231.9h1v1h-1zM272.6 234.8h1v1h-1zM265.1 232.5h1v1h-1zM273.1 237.4h1v1h-1zM266.5 230.9h1v1h-1zM273.2 237.6h1v1h-1zM264.9 239.0h1v1h-1zM279.7 234.5h1v1h-1zM280.2 236.2h1v1h-1zM278.1 229.1h1v1h-1zM273.1 239.4h1v1h-1zM278.0 236.2h1v1h-1zM263.1 229.2h1v1h-1zM259.1 234.1h1v1h-1zM268.0 234.0h1v1h-1zM267.7 233.1h1v1h-1zM279.9 238.7h1v1h-1zM273.4 237.5h1v1h-1zM275.1 231.9h1v1h-1zM279.1 234.3h1v1h-1zM272.9 232.8h1v1h-1zM270.8 238.1h1v1h-1zM270.3 232.2h1v1h-1zM261.6 237.3h1v1h-1zM261.6 233.3h1v1h-1zM277.1 235.0h1v1h-1zM278.4 232.7h1v1h-1zM280.1 233.4h1v1h-1zM270.7 235.0h1v1h-1zM282.4 235.1h1v1h-1zM269.4 235.8h1v1h-1zM276.3 240.9h1v1h-1zM273.9 235.8h1v1h-1zM262.1 235.3h1v1h-1zM267.6 231.2h1v1h-1zM274.9 236.5h1v1h-1zM276.4 237.7h1v1h-1zM269.6 228.6h1v1h-1zM275.1 233.4h1v1h-1zM281.8 235.1h1v1h-1zM273.3 232.6h1v1h-1zM263.7 233.2h1v1h-1zM276.0 239.6h1v1h-1zM278.8 235.1h1v1h-1zM259.2 233.2h1v1h-1zM273.7 233.2h1v1h-1zM267.8 238.5h1v1h-1zM265.7 229.9h1v1h-1zM266.3 235.4h1v1h-1zM279.2 233.2h1v1h-1zM271.7 229.3h1v1h-1zM274.0 229.4h1v1h-1zM279.1 232.5h1v1h-1zM271.5 233.5h1v1h-1zM269.6 234.6h1v1h-1zM274.9 234.6h1v1h-1zM268.3 232.4h1v1h-1zM276.6 235.8h1v1h-1zM273.2 237.8h1v1h-1zM263.2 230.9h1v1h-1zM265.2 230.4h1v1h-1zM260.3 238.3h1v1h-1zM281.0 231.2h1v1h-1zM276.6 233.7h1v1h-1zM268.5 237.5h1v1h-1zM261.9 233.5h1v1h-1zM278.7 233.0h1v1h-1zM263.5 234.3h1v1h-1zM265.7 232.3h1v1h-1zM260.8 235.2h1v1h-1zM238.8 231.9h1v1h-1zM247.8 231.2h1v1h-1zM256.0 228.6h1v1h-1zM241.4 231.4h1v1h-1zM250.4 232.8h1v1h-1zM243.8 234.8h1v1h-1zM238.7 231.6h1v1h-1zM244.6 230.9h1v1h-1zM253.9 231.1h1v1h-1zM248.2 233.6h1v1h-1zM254.1 234.4h1v1h-1zM257.9 233.2h1v1h-1zM247.2 234.1h1v1h-1zM239.8 235.4h1v1h-1zM255.8 233.5h1v1h-1zM251.1 232.5h1v1h-1zM244.1 233.0h1v1h-1zM238.0 230.2h1v1h-1zM246.2 231.0h1v1h-1zM249.4 234.0h1v1h-1zM240.9 236.0h1v1h-1zM255.1 232.1h1v1h-1zM247.7 229.5h1v1h-1zM255.9 232.8h1v1h-1zM243.5 230.0h1v1h-1zM241.6 230.3h1v1h-1zM238.6 234.7h1v1h-1zM240.2 233.9h1v1h-1zM247.2 230.9h1v1h-1zM238.7 234.2h1v1h-1zM240.9 233.2h1v1h-1zM250.4 231.4h1v1h-1zM246.1 231.4h1v1h-1zM242.0 237.9h1v1h-1zM241.4 234.0h1v1h-1zM242.7 232.8h1v1h-1zM243.4 229.5h1v1h-1zM246.2 232.2h1v1h-1zM242.7 234.1h1v1h-1zM251.5 233.4h1v1h-1zM246.5 231.5h1v1h-1zM257.7 236.5h1v1h-1zM256.5 229.3h1v1h-1zM251.4 233.2h1v1h-1zM256.5 228.8h1v1h-1zM240.5 231.7h1v1h-1zM247.9 231.0h1v1h-1zM251.0 229.1h1v1h-1zM267.1 240.9h1v1h-1zM265.1 243.6h1v1h-1zM263.6 247.6h1v1h-1zM260.9 245.7h1v1h-1zM270.1 254.8h1v1h-1zM269.7 249.1h1v1h-1zM271.2 243.6h1v1h-1zM261.9 248.9h1v1h-1zM261.1 241.3h1v1h-1zM264.9 251.6h1v1h-1zM259.7 240.5h1v1h-1zM261.5 254.5h1v1h-1zM272.4 237.3h1v1h-1zM265.0 256.2h1v1h-1zM264.6 243.4h1v1h-1zM269.7 248.0h1v1h-1zM265.5 256.4h1v1h-1zM265.8 242.1h1v1h-1zM268.3 250.8h1v1h-1zM262.0 253.9h1v1h-1zM265.3 242.2h1v1h-1zM261.5 244.3h1v1h-1zM268.0 252.0h1v1h-1zM264.2 252.3h1v1h-1zM263.6 238.4h1v1h-1zM269.4 254.5h1v1h-1zM260.2 254.9h1v1h-1zM262.4 242.8h1v1h-1zM268.2 236.1h1v1h-1zM265.6 254.4h1v1h-1zM265.5 242.6h1v1h-1zM262.6 251.5h1v1h-1zM264.6 243.0h1v1h-1zM266.8 250.2h1v1h-1zM275.5 247.3h1v1h-1zM268.6 247.0h1v1h-1zM265.6 243.3h1v1h-1zM271.5 249.4h1v1h-1zM263.6 247.4h1v1h-1zM263.8 257.2h1v1h-1zM265.4 248.9h1v1h-1zM265.2 252.3h1v1h-1zM264.1 243.1h1v1h-1zM268.0 245.8h1v1h-1zM260.7 249.7h1v1h-1zM259.7 237.1h1v1h-1zM267.7 251.3h1v1h-1zM271.1 236.1h1v1h-1zM265.4 242.6h1v1h-1zM265.3 243.7h1v1h-1zM265.9 257.6h1v1h-1zM272.3 241.5h1v1h-1zM260.2 243.4h1v1h-1zM263.0 246.1h1v1h-1zM265.6 257.8h1v1h-1zM265.8 250.9h1v1h-1zM262.4 248.4h1v1h-1zM266.2 249.9h1v1h-1zM261.2 252.0h1v1h-1zM280.0 241.7h1v1h-1zM281.1 237.5h1v1h-1zM262.7 240.6h1v1h-1zM264.7 243.8h1v1h-1zM269.2 253.3h1v1h-1zM270.4 241.0h1v1h-1zM265.6 256.6h1v1h-1zM264.6 246.8h1v1h-1zM272.7 244.7h1v1h-1zM265.6 251.6h1v1h-1zM273.7 246.4h1v1h-1zM266.5 250.5h1v1h-1zM261.9 255.3h1v1h-1zM267.6 237.9h1v1h-1zM265.5 255.2h1v1h-1zM267.0 250.1h1v1h-1zM264.6 241.2h1v1h-1zM261.8 243.3h1v1h-1zM268.1 255.6h1v1h-1zM272.6 241.2h1v1h-1zM261.7 245.1h1v1h-1zM263.2 252.2h1v1h-1zM260.9 241.7h1v1h-1zM261.6 240.7h1v1h-1zM265.0 255.7h1v1h-1zM268.1 251.2h1v1h-1zM263.5 254.9h1v1h-1zM273.2 240.1h1v1h-1zM267.1 239.4h1v1h-1zM262.4 245.4h1v1h-1zM267.8 254.0h1v1h-1zM271.2 238.6h1v1h-1zM268.1 252.3h1v1h-1zM264.7 255.0h1v1h-1zM260.9 245.7h1v1h-1zM250.0 252.5h1v1h-1zM248.4 252.4h1v1h-1zM255.0 239.7h1v1h-1zM248.4 239.7h1v1h-1zM248.0 252.6h1v1h-1zM246.6 248.3h1v1h-1zM257.3 251.7h1v1h-1zM248.7 255.3h1v1h-1zM248.3 246.3h1v1h-1zM243.2 245.8h1v1h-1zM248.7 246.2h1v1h-1zM246.9 256.8h1v1h-1zM260.0 263.9h1v1h-1zM283.1 269.2h1v1h-1zM260.8 265.8h1v1h-1zM271.6 262.6h1v1h-1zM279.1 265.5h1v1h-1zM257.5 264.3h1v1h-1zM238.5 262.0h1v1h-1z" fill="#555" fill-opacity="0.34"/>
<path d="M243.7 230.3h1v1h-1zM269.5 230.4h1v1h-1zM280.4 231.7h1v1h-1zM273.7 235.1h1v1h-1zM275.2 227.6h1v1h-1zM253.2 228.9h1v1h-1zM243.3 231.0h1v1h-1zM255.4 230.5h1v1h-1zM260.4 229.5h1v1h-1zM256.9 230.0h1v1h-1zM273.0 233.9h1v1h-1zM246.9 235.7h1v1h-1zM270.6 230.8h1v1h-1zM277.3 235.9h1v1h-1zM258.5 233.9h1v1h-1zM250.5 232.4h1v1h-1zM275.0 234.8h1v1h-1zM266.9 235.6h1v1h-1zM280.0 230.4h1v1h-1zM242.1 231.6h1v1h-1zM264.2 235.8h1v1h-1zM263.0 236.4h1v1h-1zM253.7 232.5h1v1h-1zM251.3 231.3h1v1h-1zM257.0 233.5h1v1h-1zM281.1 235.7h1v1h-1zM258.6 231.2h1v1h-1zM270.2 228.6h1v1h-1zM257.2 229.4h1v1h-1zM272.4 237.5h1v1h-1zM273.4 232.7h1v1h-1zM257.1 230.7h1v1h-1zM274.2 236.5h1v1h-1zM247.9 230.6h1v1h-1zM253.9 233.2h1v1h-1zM274.8 231.7h1v1h-1zM266.6 231.8h1v1h-1zM273.9 230.8h1v1h-1zM268.3 235.6h1v1h-1zM236.9 234.3h1v1h-1zM273.1 232.3h1v1h-1zM248.8 227.9h1v1h-1zM262.9 235.6h1v1h-1zM244.6 232.1h1v1h-1zM281.0 241.7h1v1h-1zM258.4 230.1h1v1h-1zM278.3 231.5h1v1h-1zM247.7 234.7h1v1h-1zM276.8 231.7h1v1h-1zM259.1 231.6h1v1h-1zM269.2 231.2h1v1h-1zM268.6 234.1h1v1h-1zM239.0 232.6h1v1h-1zM242.4 230.2h1v1h-1zM256.0 229.9h1v1h-1zM259.5 230.2h1v1h-1zM239.4 230.5h1v1h-1zM258.9 229.4h1v1h-1zM279.7 229.0h1v1h-1zM237.1 228.7h1v1h-1zM276.6 233.9h1v1h-1zM277.9 228.6h1v1h-1zM256.1 230.5h1v1h-1zM269.0 236.0h1v1h-1zM249.7 232.8h1v1h-1zM267.9 237.6h1v1h-1zM246.5 229.8h1v1h-1zM269.9 232.1h1v1h-1zM272.6 241.8h1v1h-1zM262.6 231.4h1v1h-1zM269.7 229.6h1v1h-1zM282.4 237.7h1v1h-1zM271.1 231.6h1v1h-1zM258.6 229.1h1v1h-1zM273.4 233.9h1v1h-1zM257.3 229.2h1v1h-1zM279.4 235.4h1v1h-1zM245.8 233.7h1v1h-1zM244.4 229.4h1v1h-1zM275.8 230.5h1v1h-1zM267.6 232.4h1v1h-1zM257.7 229.5h1v1h-1zM249.5 229.5h1v1h-1zM246.9 234.5h1v1h-1zM269.9 236.7h1v1h-1zM280.2 240.9h1v1h-1zM266.7 236.3h1v1h-1zM281.7 233.2h1v1h-1zM253.2 231.9h1v1h-1zM242.0 229.6h1v1h-1zM254.8 229.5h1v1h-1zM279.6 229.1h1v1h-1zM277.4 230.6h1v1h-1zM265.0 229.3h1v1h-1zM260.6 228.3h1v1h-1zM267.4 236.5h1v1h-1zM268.9 230.5h1v1h-1zM265.4 236.8h1v1h-1zM273.0 233.4h1v1h-1zM281.0 233.8h1v1h-1zM246.0 232.2h1v1h-1zM245.5 229.8h1v1h-1zM278.1 233.3h1v1h-1zM273.2 229.1h1v1h-1zM271.1 236.2h1v1h-1zM240.7 229.1h1v1h-1zM268.2 230.8h1v1h-1zM259.6 232.1h1v1h-1zM245.3 238.4h1v1h-1zM244.8 234.4h1v1h-1zM243.4 230.7h1v1h-1zM277.3 228.9h1v1h-1zM282.9 233.4h1v1h-1zM253.1 230.0h1v1h-1zM261.8 234.3h1v1h-1zM252.7 231.3h1v1h-1zM264.0 229.7h1v1h-1zM265.4 230.5h1v1h-1zM273.2 232.3h1v1h-1zM277.2 233.6h1v1h-1zM250.2 228.9h1v1h-1zM249.9 233.1h1v1h-1zM265.1 231.0h1v1h-1zM266.2 231.7h1v1h-1zM266.3 233.7h1v1h-1zM262.3 231.4h1v1h-1zM262.6 234.5h1v1h-1zM265.5 228.6h1v1h-1zM245.6 231.8h1v1h-1zM241.3 228.4h1v1h-1zM273.6 229.2h1v1h-1zM282.3 236.6h1v1h-1zM262.5 235.0h1v1h-1zM270.4 229.5h1v1h-1zM250.4 231.3h1v1h-1zM248.0 230.4h1v1h-1zM265.9 228.4h1v1h-1zM282.0 234.3h1v1h-1zM269.6 230.4h1v1h-1zM276.8 238.3h1v1h-1zM266.6 232.2h1v1h-1zM255.1 229.3h1v1h-1zM271.3 235.4h1v1h-1zM275.8 228.2h1v1h-1zM242.3 236.1h1v1h-1zM278.4 232.3h1v1h-1zM238.2 229.9h1v1h-1zM281.7 231.5h1v1h-1zM267.5 236.0h1v1h-1zM278.0 236.7h1v1h-1zM267.7 231.8h1v1h-1zM273.3 230.8h1v1h-1zM270.7 233.7h1v1h-1zM270.4 229.2h1v1h-1zM273.1 232.3h1v1h-1zM277.5 231.8h1v1h-1zM272.2 230.3h1v1h-1zM259.7 239.4h1v1h-1zM273.4 230.3h1v1h-1zM266.0 234.8h1v1h-1zM251.3 229.2h1v1h-1zM270.4 231.4h1v1h-1zM249.4 230.6h1v1h-1zM262.1 234.0h1v1h-1zM281.7 236.8h1v1h-1zM264.2 234.2h1v1h-1zM255.3 233.9h1v1h-1zM259.2 237.1h1v1h-1zM254.9 229.0h1v1h-1zM269.0 240.9h1v1h-1zM252.9 230.1h1v1h-1zM240.1 234.8h1v1h-1zM237.1 231.9h1v1h-1zM266.8 231.5h1v1h-1zM273.6 227.4h1v1h-1zM236.8 234.3h1v1h-1zM266.3 228.7h1v1h-1zM274.3 233.3h1v1h-1zM267.5 236.2h1v1h-1zM273.6 231.5h1v1h-1zM271.0 235.3h1v1h-1zM243.6 231.4h1v1h-1zM265.5 230.9h1v1h-1zM254.8 234.4h1v1h-1zM270.8 235.8h1v1h-1zM244.8 229.4h1v1h-1zM243.4 231.4h1v1h-1zM257.3 231.1h1v1h-1zM246.8 231.7h1v1h-1zM277.6 230.1h1v1h-1zM246.9 231.7h1v1h-1zM257.9 229.4h1v1h-1zM273.8 231.9h1v1h-1zM261.4 228.5h1v1h-1zM240.9 232.2h1v1h-1zM256.7 227.9h1v1h-1zM282.4 229.7h1v1h-1zM272.0 232.8h1v1h-1zM276.3 229.9h1v1h-1zM240.4 232.2h1v1h-1zM262.6 231.9h1v1h-1zM250.6 228.6h1v1h-1zM253.8 234.0h1v1h-1zM272.8 230.4h1v1h-1zM280.3 228.6h1v1h-1zM277.4 230.5h1v1h-1zM245.3 227.1h1v1h-1zM259.2 232.4h1v1h-1zM271.1 233.2h1v1h-1zM258.4 233.7h1v1h-1zM275.2 230.0h1v1h-1zM278.9 236.1h1v1h-1zM240.1 229.6h1v1h-1zM239.3 229.2h1v1h-1zM247.8 233.4h1v1h-1zM283.3 230.1h1v1h-1zM241.1 230.0h1v1h-1zM265.6 231.9h1v1h-1zM252.1 231.9h1v1h-1zM249.0 230.1h1v1h-1zM261.4 233.2h1v1h-1zM256.1 231.0h1v1h-1zM248.8 230.4h1v1h-1zM258.2 232.7h1v1h-1zM272.2 230.4h1v1h-1zM245.4 229.8h1v1h-1zM243.6 231.9h1v1h-1zM265.2 231.1h1v1h-1zM258.3 229.7h1v1h-1zM259.8 233.0h1v1h-1zM276.0 232.4h1v1h-1zM253.6 230.6h1v1h-1zM266.6 236.0h1v1h-1zM261.9 229.6h1v1h-1zM239.1 232.9h1v1h-1zM273.9 238.9h1v1h-1zM283.6 235.5h1v1h-1zM258.0 230.4h1v1h-1zM280.5 236.5h1v1h-1zM281.0 230.3h1v1h-1zM267.3 230.8h1v1h-1zM260.5 233.1h1v1h-1zM268.3 232.8h1v1h-1zM237.9 239.6h1v1h-1zM256.1 229.5h1v1h-1zM277.2 231.5h1v1h-1zM243.1 241.6h1v1h-1zM279.4 233.4h1v1h-1zM269.8 233.4h1v1h-1zM277.8 230.5h1v1h-1zM237.9 229.5h1v1h-1zM282.1 234.9h1v1h-1zM272.2 232.8h1v1h-1zM247.4 229.5h1v1h-1zM272.1 236.9h1v1h-1zM243.5 234.2h1v1h-1zM256.2 233.5h1v1h-1zM280.8 235.2h1v1h-1zM259.4 229.4h1v1h-1zM242.0 229.6h1v1h-1zM259.4 228.8h1v1h-1zM264.4 231.6h1v1h-1zM264.9 229.5h1v1h-1zM241.9 234.8h1v1h-1zM260.7 233.6h1v1h-1zM253.7 234.5h1v1h-1zM281.3 233.9h1v1h-1zM246.6 229.9h1v1h-1zM265.3 232.0h1v1h-1zM284.5 228.5h1v1h-1zM249.2 231.7h1v1h-1zM277.7 234.5h1v1h-1zM262.7 240.1h1v1h-1zM270.5 231.4h1v1h-1zM254.9 231.1h1v1h-1zM236.5 228.6h1v1h-1zM260.3 235.9h1v1h-1zM267.1 230.9h1v1h-1zM269.7 236.7h1v1h-1zM278.4 229.1h1v1h-1zM250.7 230.7h1v1h-1zM238.6 231.4h1v1h-1zM244.3 227.4h1v1h-1zM277.9 230.2h1v1h-1zM277.0 233.1h1v1h-1zM273.9 238.7h1v1h-1zM267.1 231.8h1v1h-1zM261.5 234.8h1v1h-1zM252.5 230.3h1v1h-1zM250.3 229.9h1v1h-1zM261.4 237.0h1v1h-1zM241.5 229.9h1v1h-1zM237.3 232.1h1v1h-1zM271.4 230.7h1v1h-1zM258.4 232.1h1v1h-1zM264.4 234.7h1v1h-1zM242.8 234.6h1v1h-1zM262.9 231.2h1v1h-1zM256.6 232.3h1v1h-1zM273.2 234.8h1v1h-1zM272.6 229.6h1v1h-1zM275.5 228.4h1v1h-1zM256.9 229.3h1v1h-1zM251.0 234.9h1v1h-1zM272.7 234.5h1v1h-1zM251.0 230.9h1v1h-1zM283.3 229.4h1v1h-1zM246.8 229.2h1v1h-1zM261.1 231.8h1v1h-1zM273.7 229.8h1v1h-1zM249.0 230.2h1v1h-1zM250.4 228.5h1v1h-1zM256.4 230.4h1v1h-1zM254.1 230.8h1v1h-1zM262.3 228.2h1v1h-1zM256.8 228.5h1v1h-1zM246.7 231.4h1v1h-1zM266.5 230.0h1v1h-1zM272.7 230.0h1v1h-1zM270.8 238.5h1v1h-1zM246.9 231.4h1v1h-1zM271.2 236.3h1v1h-1zM279.7 231.4h1v1h-1zM254.7 232.2h1v1h-1zM273.8 238.6h1v1h-1zM264.7 230.8h1v1h-1zM245.4 230.7h1v1h-1zM252.8 234.6h1v1h-1zM278.5 232.2h1v1h-1zM267.1 237.0h1v1h-1zM241.0 229.7h1v1h-1zM278.9 230.7h1v1h-1zM250.7 235.1h1v1h-1zM283.9 231.7h1v1h-1zM276.6 230.2h1v1h-1zM243.7 230.5h1v1h-1zM242.5 231.5h1v1h-1zM283.9 236.0h1v1h-1zM243.7 232.2h1v1h-1zM241.9 228.8h1v1h-1zM254.2 228.1h1v1h-1zM273.2 231.5h1v1h-1zM275.3 229.8h1v1h-1zM262.9 230.5h1v1h-1zM261.3 233.7h1v1h-1zM247.6 229.0h1v1h-1zM252.4 230.2h1v1h-1zM272.2 233.0h1v1h-1zM271.9 230.1h1v1h-1zM255.3 231.2h1v1h-1zM239.2 233.3h1v1h-1zM279.8 230.3h1v1h-1zM263.5 236.6h1v1h-1zM247.0 233.1h1v1h-1zM282.8 234.4h1v1h-1zM255.6 232.3h1v1h-1zM257.7 229.1h1v1h-1zM279.0 233.2h1v1h-1zM252.7 231.2h1v1h-1zM269.0 229.0h1v1h-1zM272.5 235.1h1v1h-1zM267.9 229.2h1v1h-1zM280.4 232.2h1v1h-1zM247.2 233.2h1v1h-1zM263.2 238.4h1v1h-1zM279.3 235.1h1v1h-1zM279.6 235.8h1v1h-1zM240.0 233.6h1v1h-1zM282.1 234.6h1v1h-1zM254.5 232.6h1v1h-1zM268.9 238.5h1v1h-1zM257.3 232.0h1v1h-1zM284.5 232.8h1v1h-1zM277.3 235.5h1v1h-1zM273.9 232.8h1v1h-1zM278.5 229.2h1v1h-1zM263.0 231.5h1v1h-1zM250.0 230.3h1v1h-1zM248.8 228.6h1v1h-1zM279.2 228.2h1v1h-1zM264.4 231.5h1v1h-1zM263.2 234.4h1v1h-1zM255.1 236.9h1v1h-1zM260.5 231.6h1v1h-1zM242.3 235.5h1v1h-1zM254.0 229.7h1v1h-1zM266.9 237.8h1v1h-1zM260.9 229.2h1v1h-1zM245.2 229.5h1v1h-1zM266.4 231.1h1v1h-1zM267.2 236.5h1v1h-1zM279.3 230.1h1v1h-1zM241.6 236.0h1v1h-1zM263.4 230.1h1v1h-1zM273.3 231.3h1v1h-1zM275.9 233.9h1v1h-1zM259.4 230.0h1v1h-1zM267.3 233.1h1v1h-1zM277.5 234.2h1v1h-1zM264.8 233.8h1v1h-1zM275.3 237.2h1v1h-1zM260.5 234.0h1v1h-1zM270.9 230.9h1v1h-1zM276.0 230.4h1v1h-1zM274.9 231.8h1v1h-1zM260.9 230.4h1v1h-1zM271.9 234.6h1v1h-1zM272.9 231.8h1v1h-1zM261.0 234.6h1v1h-1zM267.1 233.5h1v1h-1zM281.4 232.1h1v1h-1zM271.3 233.1h1v1h-1zM260.5 233.9h1v1h-1zM271.2 235.8h1v1h-1zM265.9 233.7h1v1h-1zM271.7 238.3h1v1h-1zM259.2 239.0h1v1h-1zM261.6 230.9h1v1h-1zM262.6 235.4h1v1h-1zM269.1 234.0h1v1h-1zM269.5 238.5h1v1h-1zM263.6 234.7h1v1h-1zM274.9 230.5h1v1h-1zM262.3 237.2h1v1h-1zM273.4 236.5h1v1h-1zM269.6 230.9h1v1h-1zM274.4 237.3h1v1h-1zM260.8 231.0h1v1h-1zM276.1 232.2h1v1h-1zM275.9 230.1h1v1h-1zM262.2 233.2h1v1h-1zM278.6 228.5h1v1h-1zM262.8 229.0h1v1h-1zM267.0 233.5h1v1h-1zM273.4 234.4h1v1h-1zM267.0 238.9h1v1h-1zM273.0 233.1h1v1h-1zM282.1 234.9h1v1h-1zM259.9 237.8h1v1h-1zM271.4 231.0h1v1h-1zM269.7 234.3h1v1h-1zM278.5 233.5h1v1h-1zM265.6 231.2h1v1h-1zM277.2 230.0h1v1h-1zM270.0 236.3h1v1h-1zM262.4 233.8h1v1h-1zM264.4 232.1h1v1h-1zM264.9 234.2h1v1h-1zM259.1 233.2h1v1h-1zM266.1 233.4h1v1h-1zM277.8 235.0h1v1h-1zM260.9 234.3h1v1h-1zM264.9 234.6h1v1h-1zM281.3 232.7h1v1h-1zM262.0 231.4h1v1h-1zM281.5 234.1h1v1h-1zM268.7 234.1h1v1h-1zM265.5 231.0h1v1h-1zM261.1 230.6h1v1h-1zM277.2 233.3h1v1h-1zM269.8 235.9h1v1h-1zM261.4 235.0h1v1h-1zM274.3 235.6h1v1h-1zM267.2 230.3h1v1h-1zM274.8 236.9h1v1h-1zM272.2 237.6h1v1h-1zM267.7 233.5h1v1h-1zM261.4 235.4h1v1h-1zM262.3 230.5h1v1h-1zM261.6 234.1h1v1h-1zM281.4 230.8h1v1h-1zM262.6 233.8h1v1h-1zM278.9 233.9h1v1h-1zM281.3 233.4h1v1h-1zM280.0 233.8h1v1h-1zM276.5 233.9h1v1h-1zM272.9 233.2h1v1h-1zM278.0 236.1h1v1h-1zM266.7 239.4h1v1h-1zM263.4 232.5h1v1h-1zM274.0 231.8h1v1h-1zM280.6 234.2h1v1h-1zM259.4 236.6h1v1h-1zM272.8 236.4h1v1h-1zM279.7 233.6h1v1h-1zM259.6 239.5h1v1h-1zM281.9 233.2h1v1h-1zM279.3 236.7h1v1h-1zM265.3 239.4h1v1h-1zM271.5 232.8h1v1h-1zM261.3 229.2h1v1h-1zM276.4 230.2h1v1h-1zM271.4 234.7h1v1h-1zM269.6 235.2h1v1h-1zM269.3 230.1h1v1h-1zM262.8 235.8h1v1h-1zM269.1 232.4h1v1h-1zM259.8 233.5h1v1h-1zM266.7 239.9h1v1h-1zM274.9 233.3h1v1h-1zM271.1 232.8h1v1h-1zM259.2 231.3h1v1h-1zM260.2 239.1h1v1h-1zM272.5 233.7h1v1h-1zM263.6 234.2h1v1h-1zM263.3 231.2h1v1h-1zM262.0 231.4h1v1h-1zM279.1 237.6h1v1h-1zM266.1 229.9h1v1h-1zM270.7 237.2h1v1h-1zM262.5 238.7h1v1h-1zM273.5 233.7h1v1h-1zM261.3 230.8h1v1h-1zM275.7 230.4h1v1h-1zM264.7 229.6h1v1h-1zM261.8 229.6h1v1h-1zM273.0 236.3h1v1h-1zM264.5 236.6h1v1h-1zM263.1 231.0h1v1h-1zM262.8 235.2h1v1h-1zM277.1 237.8h1v1h-1zM271.6 235.2h1v1h-1zM263.3 234.4h1v1h-1zM268.7 236.3h1v1h-1zM262.8 236.0h1v1h-1zM268.9 235.9h1v1h-1zM273.6 230.2h1v1h-1zM266.0 232.3h1v1h-1zM267.9 237.3h1v1h-1zM260.9 234.3h1v1h-1zM259.3 229.9h1v1h-1zM263.8 235.6h1v1h-1zM276.0 235.9h1v1h-1zM273.4 229.3h1v1h-1zM273.6 233.0h1v1h-1zM253.4 234.4h1v1h-1zM256.3 236.3h1v1h-1zM252.1 232.6h1v1h-1zM253.6 232.7h1v1h-1zM257.3 229.6h1v1h-1zM255.7 234.4h1v1h-1zM241.9 232.2h1v1h-1zM249.2 231.8h1v1h-1zM238.0 231.5h1v1h-1zM241.8 233.3h1v1h-1zM257.5 236.2h1v1h-1zM249.2 233.7h1v1h-1zM242.9 235.8h1v1h-1zM246.6 235.9h1v1h-1zM251.2 232.1h1v1h-1zM252.9 235.9h1v1h-1zM245.3 236.7h1v1h-1zM240.7 233.6h1v1h-1zM245.5 236.3h1v1h-1zM238.4 233.2h1v1h-1zM240.9 233.5h1v1h-1zM255.1 232.4h1v1h-1zM242.7 231.3h1v1h-1zM243.4 232.2h1v1h-1zM256.0 231.0h1v1h-1zM244.9 232.0h1v1h-1zM245.2 233.4h1v1h-1zM244.7 232.7h1v1h-1zM244.5 232.9h1v1h-1zM240.2 237.0h1v1h-1zM242.5 233.5h1v1h-1zM239.9 233.1h1v1h-1zM243.9 235.4h1v1h-1zM257.9 231.8h1v1h-1zM252.3 235.6h1v1h-1zM255.7 230.2h1v1h-1zM245.8 233.7h1v1h-1zM245.4 231.8h1v1h-1zM251.8 231.7h1v1h-1zM248.9 229.1h1v1h-1zM254.5 231.8h1v1h-1zM252.1 232.5h1v1h-1zM239.6 232.3h1v1h-1zM246.3 232.7h1v1h-1zM250.7 233.9h1v1h-1zM257.2 231.8h1v1h-1zM249.0 234.6h1v1h-1zM253.1 234.9h1v1h-1zM266.2 255.6h1v1h-1zM261.0 251.5h1v1h-1zM269.0 248.1h1v1h-1zM269.1 252.0h1v1h-1zM268.3 252.4h1v1h-1zM271.8 252.5h1v1h-1zM269.4 244.7h1v1h-1zM265.2 256.7h1v1h-1zM264.6 257.2h1v1h-1zM267.3 245.3h1v1h-1zM264.2 242.7h1v1h-1zM263.8 247.7h1v1h-1zM273.7 242.9h1v1h-1zM268.8 251.0h1v1h-1zM267.4 238.1h1v1h-1zM266.3 257.7h1v1h-1zM270.5 236.8h1v1h-1zM266.7 257.8h1v1h-1zM259.8 238.9h1v1h-1zM273.5 242.7h1v1h-1zM266.5 254.6h1v1h-1zM269.9 244.6h1v1h-1zM265.4 249.7h1v1h-1zM270.8 254.3h1v1h-1zM270.3 242.8h1v1h-1zM274.3 238.3h1v1h-1zM263.9 249.9h1v1h-1zM265.2 253.4h1v1h-1zM270.4 242.8h1v1h-1zM271.9 239.5h1v1h-1zM267.7 236.1h1v1h-1zM265.3 252.6h1v1h-1zM266.5 246.1h1v1h-1zM274.4 242.5h1v1h-1zM263.4 253.7h1v1h-1zM265.1 249.9h1v1h-1zM263.3 239.1h1v1h-1zM268.0 252.5h1v1h-1zM270.7 241.7h1v1h-1zM267.7 250.6h1v1h-1zM264.5 245.7h1v1h-1zM265.3 255.9h1v1h-1zM264.2 241.7h1v1h-1zM271.2 243.1h1v1h-1zM260.9 249.7h1v1h-1zM266.6 252.1h1v1h-1zM281.2 245.4h1v1h-1zM269.3 251.4h1v1h-1zM276.2 240.3h1v1h-1zM278.7 244.2h1v1h-1zM266.0 254.4h1v1h-1zM269.9 241.4h1v1h-1zM275.5 241.7h1v1h-1zM263.3 238.4h1v1h-1zM263.5 236.1h1v1h-1zM263.6 255.2h1v1h-1zM274.8 247.4h1v1h-1zM264.2 256.0h1v1h-1zM272.3 238.9h1v1h-1zM261.9 239.8h1v1h-1zM273.0 247.0h1v1h-1zM268.0 251.9h1v1h-1zM276.3 238.6h1v1h-1zM264.8 256.5h1v1h-1zM262.2 244.3h1v1h-1zM263.1 258.0h1v1h-1zM261.8 240.4h1v1h-1zM267.7 253.6h1v1h-1zM262.1 256.7h1v1h-1zM263.9 255.2h1v1h-1zM263.6 240.8h1v1h-1zM264.0 252.1h1v1h-1zM262.4 251.3h1v1h-1zM260.8 243.5h1v1h-1zM266.0 254.6h1v1h-1zM271.2 242.8h1v1h-1zM266.5 251.0h1v1h-1zM273.1 239.5h1v1h-1zM275.7 245.1h1v1h-1zM279.5 238.9h1v1h-1zM268.9 241.3h1v1h-1zM266.1 257.3h1v1h-1zM263.5 254.9h1v1h-1zM267.0 252.6h1v1h-1zM261.6 238.9h1v1h-1zM265.2 256.8h1v1h-1zM267.6 256.3h1v1h-1zM273.9 248.6h1v1h-1zM269.9 244.5h1v1h-1zM266.5 253.8h1v1h-1zM268.5 256.9h1v1h-1zM265.7 251.4h1v1h-1zM276.8 236.8h1v1h-1zM274.1 243.6h1v1h-1zM254.1 248.4h1v1h-1zM255.6 241.8h1v1h-1zM253.7 239.1h1v1h-1zM244.8 238.9h1v1h-1zM253.0 249.6h1v1h-1zM252.3 239.6h1v1h-1zM253.2 243.8h1v1h-1zM248.1 248.6h1v1h-1zM250.3 255.2h1v1h-1zM243.9 250.1h1v1h-1zM249.6 239.4h1v1h-1zM243.9 241.8h1v1h-1zM266.9 266.3h1v1h-1zM256.6 269.0h1v1h-1zM280.8 264.4h1v1h-1zM269.1 271.5h1v1h-1zM265.3 268.3h1v1h-1zM255.6 262.0h1v1h-1zM248.6 264.6h1v1h-1z" fill="#555" fill-opacity="0.34"/>
<path d="M283.0 235.5h1v1h-1zM238.1 232.7h1v1h-1zM260.7 232.1h1v1h-1zM239.5 230.3h1v1h-1zM260.9 232.4h1v1h-1zM273.0 233.2h1v1h-1zM261.0 229.5h1v1h-1zM282.0 233.5h1v1h-1zM256.0 230.3h1v1h-1zM265.8 230.2h1v1h-1zM242.8 233.5h1v1h-1zM255.1 229.7h1v1h-1zM253.3 228.5h1v1h-1zM262.2 229.8h1v1h-1zM269.6 229.7h1v1h-1zM264.7 232.4h1v1h-1zM258.5 229.2h1v1h-1zM283.3 233.7h1v1h-1zM255.9 228.2h1v1h-1zM244.5 229.2h1v1h-1zM265.3 234.3h1v1h-1zM271.3 228.4h1v1h-1zM266.2 233.1h1v1h-1zM276.0 233.2h1v1h-1zM255.6 229.1h1v1h-1zM268.9 230.7h1v1h-1zM266.4 234.5h1v1h-1zM282.6 229.9h1v1h-1zM242.2 232.2h1v1h-1zM279.5 233.5h1v1h-1zM253.3 235.4h1v1h-1zM253.9 232.0h1v1h-1zM252.4 231.8h1v1h-1zM256.3 236.8h1v1h-1zM247.1 232.6h1v1h-1zM238.1 228.9h1v1h-1zM278.3 231.8h1v1h-1zM252.4 228.8h1v1h-1zM272.8 232.3h1v1h-1zM263.5 230.0h1v1h-1zM273.9 231.7h1v1h-1zM281.2 232.5h1v1h-1zM272.1 230.2h1v1h-1zM275.2 235.8h1v1h-1zM249.4 232.5h1v1h-1zM255.2 229.4h1v1h-1zM245.2 229.7h1v1h-1zM242.3 230.6h1v1h-1zM259.2 234.4h1v1h-1zM277.1 233.6h1v1h-1zM277.8 231.2h1v1h-1zM266.3 234.2h1v1h-1zM276.8 230.5h1v1h-1zM276.6 229.4h1v1h-1zM275.4 235.4h1v1h-1zM270.2 234.2h1v1h-1zM252.1 229.2h1v1h-1zM276.5 232.2h1v1h-1zM257.2 229.2h1v1h-1zM280.0 240.3h1v1h-1zM266.8 239.1h1v1h-1zM275.1 229.6h1v1h-1zM253.4 233.5h1v1h-1zM263.6 233.8h1v1h-1zM276.0 230.6h1v1h-1zM257.9 231.6h1v1h-1zM262.5 232.7h1v1h-1zM251.7 234.1h1v1h-1zM264.8 230.8h1v1h-1zM269.8 229.0h1v1h-1zM264.6 231.2h1v1h-1zM239.4 231.9h1v1h-1zM262.6 230.7h1v1h-1zM258.0 235.7h1v1h-1zM250.3 230.0h1v1h-1zM237.7 231.0h1v1h-1zM260.5 231.2h1v1h-1zM263.8 233.3h1v1h-1zM247.7 232.0h1v1h-1zM277.6 231.4h1v1h-1zM247.6 232.3h1v1h-1zM255.6 230.8h1v1h-1zM254.3 231.8h1v1h-1zM250.7 229.2h1v1h-1zM259.0 230.6h1v1h-1zM258.8 229.5h1v1h-1zM237.2 232.1h1v1h-1zM259.5 229.0h1v1h-1zM254.1 228.8h1v1h-1zM261.4 231.2h1v1h-1zM249.8 231.9h1v1h-1zM275.4 229.8h1v1h-1zM270.6 229.7h1v1h-1zM279.1 231.5h1v1h-1zM280.0 230.7h1v1h-1zM246.2 232.0h1v1h-1zM251.6 227.9h1v1h-1zM269.9 229.8h1v1h-1zM277.2 228.6h1v1h-1zM273.2 236.5h1v1h-1zM278.3 235.3h1v1h-1zM260.2 229.3h1v1h-1zM262.8 231.4h1v1h-1zM261.6 233.9h1v1h-1zM276.7 235.5h1v1h-1zM263.4 232.4h1v1h-1zM254.9 230.3h1v1h-1zM252.8 229.1h1v1h-1zM269.8 233.9h1v1h-1zM280.1 232.5h1v1h-1zM265.4 231.1h1v1h-1zM254.5 234.6h1v1h-1zM243.4 231.0h1v1h-1zM258.8 235.6h1v1h-1zM238.6 230.0h1v1h-1zM276.2 229.9h1v1h-1zM256.6 234.8h1v1h-1zM262.5 231.7h1v1h-1zM241.2 229.3h1v1h-1zM258.0 235.8h1v1h-1zM265.7 232.1h1v1h-1zM274.3 234.2h1v1h-1zM266.3 235.6h1v1h-1zM281.6 229.5h1v1h-1zM269.1 234.9h1v1h-1zM238.5 232.5h1v1h-1zM249.5 229.8h1v1h-1zM270.3 232.2h1v1h-1zM281.2 233.2h1v1h-1zM252.2 231.4h1v1h-1zM240.3 235.7h1v1h-1zM249.7 227.6h1v1h-1zM245.2 231.0h1v1h-1zM276.9 231.4h1v1h-1zM264.1 235.1h1v1h-1zM278.5 237.0h1v1h-1zM275.6 239.8h1v1h-1zM271.1 231.2h1v1h-1zM252.3 231.4h1v1h-1zM254.9 232.9h1v1h-1zM261.9 230.2h1v1h-1zM273.2 234.7h1v1h-1zM255.7 233.1h1v1h-1zM275.0 234.2h1v1h-1zM264.2 232.8h1v1h-1zM251.4 232.7h1v1h-1zM238.3 233.2h1v1h-1zM260.4 230.2h1v1h-1zM266.7 236.5h1v1h-1zM253.4 236.2h1v1h-1zM262.9 235.7h1v1h-1zM272.1 231.3h1v1h-1zM278.8 233.8h1v1h-1zM260.8 229.9h1v1h-1zM259.1 229.9h1v1h-1zM263.6 229.5h1v1h-1zM252.7 229.4h1v1h-1zM262.2 230.7h1v1h-1zM270.4 234.6h1v1h-1zM279.6 231.8h1v1h-1zM260.5 234.2h1v1h-1zM283.1 229.6h1v1h-1zM276.9 235.6h1v1h-1zM252.0 233.8h1v1h-1zM238.8 233.4h1v1h-1zM284.6 231.3h1v1h-1zM238.2 231.9h1v1h-1zM267.3 230.0h1v1h-1zM254.5 230.0h1v1h-1zM267.4 232.0h1v1h-1zM276.5 230.5h1v1h-1zM271.5 227.4h1v1h-1zM283.5 233.4h1v1h-1zM278.1 229.6h1v1h-1zM262.5 234.3h1v1h-1zM262.8 231.1h1v1h-1zM272.3 232.3h1v1h-1zM281.6 240.5h1v1h-1zM262.6 230.4h1v1h-1zM264.9 237.2h1v1h-1zM261.5 231.8h1v1h-1zM274.4 234.8h1v1h-1zM249.1 237.3h1v1h-1zM251.5 231.4h1v1h-1zM273.5 231.7h1v1h-1zM265.2 229.7h1v1h-1zM264.6 233.3h1v1h-1zM272.3 241.9h1v1h-1zM278.6 235.4h1v1h-1zM271.5 230.1h1v1h-1zM264.4 228.9h1v1h-1zM275.4 230.1h1v1h-1zM265.6 229.3h1v1h-1zM255.9 226.9h1v1h-1zM243.1 228.5h1v1h-1zM274.6 234.2h1v1h-1zM259.9 234.8h1v1h-1zM278.6 240.5h1v1h-1zM259.2 234.7h1v1h-1zM242.2 232.2h1v1h-1zM249.5 231.2h1v1h-1zM283.2 230.1h1v1h-1zM277.8 228.3h1v1h-1zM266.9 231.9h1v1h-1zM238.2 232.0h1v1h-1zM269.6 230.4h1v1h-1zM244.7 233.1h1v1h-1zM255.9 234.5h1v1h-1zM266.2 233.2h1v1h-1zM283.1 231.9h1v1h-1zM275.9 230.9h1v1h-1zM256.1 233.4h1v1h-1zM281.3 233.7h1v1h-1zM246.6 233.7h1v1h-1zM254.1 230.8h1v1h-1zM266.4 231.7h1v1h-1zM253.4 231.2h1v1h-1zM260.6 228.3h1v1h-1zM256.8 232.1h1v1h-1zM273.9 229.7h1v1h-1zM253.9 229.9h1v1h-1zM270.2 228.6h1v1h-1zM247.2 234.5h1v1h-1zM271.4 234.9h1v1h-1zM267.0 231.2h1v1h-1zM265.0 232.5h1v1h-1zM247.8 229.1h1v1h-1zM249.8 231.0h1v1h-1zM245.7 232.2h1v1h-1zM250.1 228.6h1v1h-1zM264.2 230.5h1v1h-1zM272.2 231.7h1v1h-1zM276.8 233.2h1v1h-1zM254.5 229.3h1v1h-1zM266.9 229.6h1v1h-1zM259.8 230.8h1v1h-1zM251.1 230.5h1v1h-1zM260.3 231.6h1v1h-1zM244.5 231.8h1v1h-1zM244.0 231.1h1v1h-1zM244.2 229.6h1v1h-1zM277.3 230.1h1v1h-1zM272.7 230.0h1v1h-1zM251.5 232.0h1v1h-1zM268.8 234.5h1v1h-1zM279.1 229.5h1v1h-1zM255.8 233.9h1v1h-1zM276.9 235.2h1v1h-1zM260.3 232.4h1v1h-1zM244.6 229.2h1v1h-1zM283.8 233.5h1v1h-1zM244.8 231.8h1v1h-1zM277.7 231.6h1v1h-1zM252.7 229.8h1v1h-1zM282.3 230.7h1v1h-1zM258.5 232.6h1v1h-1zM237.8 231.6h1v1h-1zM256.1 232.4h1v1h-1zM271.8 232.2h1v1h-1zM267.6 235.3h1v1h-1zM281.5 230.1h1v1h-1zM277.7 234.5h1v1h-1zM243.0 236.4h1v1h-1zM239.8 229.0h1v1h-1zM279.8 236.3h1v1h-1zM266.2 229.3h1v1h-1zM282.6 239.8h1v1h-1zM264.7 230.5h1v1h-1zM273.9 233.6h1v1h-1zM267.1 229.1h1v1h-1zM279.2 239.1h1v1h-1zM257.3 227.4h1v1h-1zM236.9 231.4h1v1h-1zM252.7 234.7h1v1h-1zM281.2 232.1h1v1h-1zM244.6 229.7h1v1h-1zM273.7 237.2h1v1h-1zM241.7 236.0h1v1h-1zM251.8 236.2h1v1h-1zM270.8 238.0h1v1h-1zM272.5 233.4h1v1h-1zM277.0 231.1h1v1h-1zM265.0 230.2h1v1h-1zM241.7 230.6h1v1h-1zM258.8 230.1h1v1h-1zM256.5 228.7h1v1h-1zM280.7 229.5h1v1h-1zM253.9 236.3h1v1h-1zM262.5 231.4h1v1h-1zM269.4 229.7h1v1h-1zM263.5 237.1h1v1h-1zM249.1 230.9h1v1h-1zM247.6 229.4h1v1h-1zM273.4 231.7h1v1h-1zM280.3 240.3h1v1h-1zM237.9 229.9h1v1h-1zM282.0 236.8h1v1h-1zM257.7 229.8h1v1h-1zM247.2 232.6h1v1h-1zM263.8 233.7h1v1h-1zM267.1 235.6h1v1h-1zM254.0 232.4h1v1h-1zM264.9 229.1h1v1h-1zM267.6 237.8h1v1h-1zM270.4 230.4h1v1h-1zM245.7 233.3h1v1h-1zM275.4 229.2h1v1h-1zM249.8 229.9h1v1h-1zM240.6 232.5h1v1h-1zM248.7 229.8h1v1h-1zM258.4 231.1h1v1h-1zM262.3 236.7h1v1h-1zM277.3 235.9h1v1h-1zM277.2 235.8h1v1h-1zM282.3 237.2h1v1h-1zM241.7 230.8h1v1h-1zM258.3 228.6h1v1h-1zM268.2 228.9h1v1h-1zM246.0 229.1h1v1h-1zM243.9 237.1h1v1h-1zM262.5 230.4h1v1h-1zM269.3 230.9h1v1h-1zM245.6 232.8h1v1h-1zM280.9 230.9h1v1h-1zM249.0 229.1h1v1h-1zM264.0 238.4h1v1h-1zM244.6 229.8h1v1h-1zM260.7 230.8h1v1h-1zM273.4 232.2h1v1h-1zM239.3 229.0h1v1h-1zM271.2 229.6h1v1h-1zM248.9 228.6h1v1h-1zM238.1 228.5h1v1h-1zM242.4 230.5h1v1h-1zM254.6 231.2h1v1h-1zM270.8 229.9h1v1h-1zM273.0 229.0h1v1h-1zM273.3 233.2h1v1h-1zM260.2 234.6h1v1h-1zM268.4 235.7h1v1h-1zM273.2 231.7h1v1h-1zM267.5 231.2h1v1h-1zM278.8 230.7h1v1h-1zM279.4 230.7h1v1h-1zM262.6 232.4h1v1h-1zM281.4 234.2h1v1h-1zM257.1 231.7h1v1h-1zM247.4 228.2h1v1h-1zM268.9 230.2h1v1h-1zM280.5 235.0h1v1h-1zM256.7 232.0h1v1h-1zM275.5 233.1h1v1h-1zM239.6 236.7h1v1h-1zM271.0 231.1h1v1h-1zM250.8 234.0h1v1h-1zM259.4 234.5h1v1h-1zM279.5 232.8h1v1h-1zM272.8 233.7h1v1h-1zM267.6 235.0h1v1h-1zM277.6 237.6h1v1h-1zM246.2 230.4h1v1h-1zM266.2 229.4h1v1h-1zM259.3 235.6h1v1h-1zM255.9 228.5h1v1h-1zM284.0 233.0h1v1h-1zM240.9 233.8h1v1h-1zM271.3 235.2h1v1h-1zM273.9 230.1h1v1h-1zM279.5 233.1h1v1h-1zM246.2 229.3h1v1h-1zM277.9 233.1h1v1h-1zM268.8 229.2h1v1h-1zM275.4 234.2h1v1h-1zM259.4 233.7h1v1h-1zM237.2 230.7h1v1h-1zM256.9 235.1h1v1h-1zM259.7 228.1h1v1h-1zM284.0 230.2h1v1h-1zM276.0 233.9h1v1h-1zM263.9 233.5h1v1h-1zM277.8 234.8h1v1h-1zM283.4 232.2h1v1h-1zM246.3 229.7h1v1h-1zM245.3 229.3h1v1h-1zM255.2 233.4h1v1h-1zM272.1 232.6h1v1h-1zM251.0 231.4h1v1h-1zM249.9 229.2h1v1h-1zM283.8 233.4h1v1h-1zM267.9 231.2h1v1h-1zM271.4 233.4h1v1h-1zM279.4 233.3h1v1h-1zM242.0 231.3h1v1h-1zM277.0 234.9h1v1h-1zM238.3 229.7h1v1h-1zM255.2 229.0h1v1h-1zM278.0 241.2h1v1h-1zM277.8 229.4h1v1h-1zM270.0 236.4h1v1h-1zM272.2 236.2h1v1h-1zM261.3 236.8h1v1h-1zM260.8 234.5h1v1h-1zM267.4 239.8h1v1h-1zM272.3 229.1h1v1h-1zM282.9 236.4h1v1h-1zM272.1 232.1h1v1h-1zM280.0 236.7h1v1h-1zM277.9 231.2h1v1h-1zM268.6 235.4h1v1h-1zM277.0 234.6h1v1h-1zM276.6 235.6h1v1h-1zM282.0 236.0h1v1h-1zM272.0 235.4h1v1h-1zM261.1 229.5h1v1h-1zM267.9 230.0h1v1h-1zM267.5 232.3h1v1h-1zM277.9 228.6h1v1h-1zM260.1 232.6h1v1h-1zM273.1 234.3h1v1h-1zM263.5 233.9h1v1h-1zM277.1 237.8h1v1h-1zM260.7 235.2h1v1h-1zM267.1 235.6h1v1h-1zM265.6 236.2h1v1h-1zM281.8 233.9h1v1h-1zM263.6 235.5h1v1h-1zM263.3 230.8h1v1h-1zM274.2 237.3h1v1h-1zM273.6 235.0h1v1h-1zM260.1 233.4h1v1h-1zM281.8 234.0h1v1h-1zM259.7 229.7h1v1h-1zM279.0 229.2h1v1h-1zM261.2 234.5h1v1h-1zM269.7 234.8h1v1h-1zM264.4 232.5h1v1h-1zM280.3 231.7h1v1h-1zM272.5 233.7h1v1h-1zM273.1 233.5h1v1h-1zM270.6 236.1h1v1h-1zM266.7 236.3h1v1h-1zM275.0 240.1h1v1h-1zM278.6 232.5h1v1h-1zM259.7 233.0h1v1h-1zM271.2 237.4h1v1h-1zM280.9 233.9h1v1h-1zM278.3 235.1h1v1h-1zM276.5 231.7h1v1h-1zM282.1 232.3h1v1h-1zM275.0 233.0h1v1h-1zM283.2 235.2h1v1h-1zM265.7 231.6h1v1h-1zM274.9 235.0h1v1h-1zM277.5 234.8h1v1h-1zM266.8 231.7h1v1h-1zM261.7 231.6h1v1h-1zM282.0 235.8h1v1h-1zM275.8 231.6h1v1h-1zM274.1 238.6h1v1h-1zM261.1 234.6h1v1h-1zM261.3 238.7h1v1h-1zM267.9 233.3h1v1h-1zM264.2 233.7h1v1h-1zM271.0 235.8h1v1h-1zM272.8 231.7h1v1h-1zM275.8 234.9h1v1h-1zM270.5 241.5h1v1h-1zM274.2 233.5h1v1h-1zM270.4 230.7h1v1h-1zM278.7 231.4h1v1h-1zM262.7 234.4h1v1h-1zM272.6 230.4h1v1h-1zM277.7 235.3h1v1h-1zM275.4 232.9h1v1h-1zM267.2 235.9h1v1h-1zM264.6 232.8h1v1h-1zM270.1 233.2h1v1h-1zM271.7 231.1h1v1h-1zM272.6 241.4h1v1h-1zM268.5 238.6h1v1h-1zM278.3 234.9h1v1h-1zM274.5 230.3h1v1h-1zM264.2 230.0h1v1h-1zM259.8 235.6h1v1h-1zM260.8 230.9h1v1h-1zM269.5 234.4h1v1h-1zM274.6 230.8h1v1h-1zM273.9 237.2h1v1h-1zM264.4 233.2h1v1h-1zM269.0 235.9h1v1h-1zM269.8 231.8h1v1h-1zM270.5 237.9h1v1h-1zM264.6 229.6h1v1h-1zM271.5 236.0h1v1h-1zM276.2 231.4h1v1h-1zM263.2 236.5h1v1h-1zM263.0 236.9h1v1h-1zM272.4 229.6h1v1h-1zM270.1 235.9h1v1h-1zM270.6 234.1h1v1h-1zM270.9 232.2h1v1h-1zM277.6 228.5h1v1h-1zM259.9 236.6h1v1h-1zM259.3 230.5h1v1h-1zM266.4 229.4h1v1h-1zM267.0 231.2h1v1h-1zM264.8 235.4h1v1h-1zM275.2 233.8h1v1h-1zM276.9 232.1h1v1h-1zM266.7 232.4h1v1h-1zM261.5 236.9h1v1h-1zM277.6 234.2h1v1h-1zM277.0 236.0h1v1h-1zM259.9 231.5h1v1h-1zM261.0 232.6h1v1h-1zM263.6 237.7h1v1h-1zM282.3 232.3h1v1h-1zM276.1 237.4h1v1h-1zM269.4 229.6h1v1h-1zM272.9 230.7h1v1h-1zM282.8 233.5h1v1h-1zM260.3 233.0h1v1h-1zM277.3 229.7h1v1h-1zM282.0 234.2h1v1h-1zM259.3 229.7h1v1h-1zM276.0 232.2h1v1h-1zM270.8 236.0h1v1h-1zM278.1 238.0h1v1h-1zM280.4 236.1h1v1h-1zM261.5 235.0h1v1h-1zM274.9 235.3h1v1h-1zM263.6 233.3h1v1h-1zM263.3 230.8h1v1h-1zM266.0 234.9h1v1h-1zM261.2 235.8h1v1h-1zM242.5 230.1h1v1h-1zM247.0 233.0h1v1h-1zM255.2 231.5h1v1h-1zM252.3 233.4h1v1h-1zM255.2 231.9h1v1h-1zM243.9 231.4h1v1h-1zM245.4 233.5h1v1h-1zM247.2 233.8h1v1h-1zM255.6 233.2h1v1h-1zM247.7 235.0h1v1h-1zM245.1 232.9h1v1h-1zM241.8 232.6h1v1h-1zM246.7 232.8h1v1h-1zM241.6 230.6h1v1h-1zM251.7 237.4h1v1h-1zM240.6 235.9h1v1h-1zM256.8 230.6h1v1h-1zM241.8 230.9h1v1h-1zM242.3 232.4h1v1h-1zM248.6 229.8h1v1h-1zM243.5 233.2h1v1h-1zM251.0 232.0h1v1h-1zM257.2 233.7h1v1h-1zM256.4 232.7h1v1h-1zM250.6 233.1h1v1h-1zM257.2 229.6h1v1h-1zM243.9 234.6h1v1h-1zM240.7 230.8h1v1h-1zM238.9 232.9h1v1h-1zM238.6 230.8h1v1h-1zM254.9 231.0h1v1h-1zM241.3 232.0h1v1h-1zM252.4 231.3h1v1h-1zM241.0 233.7h1v1h-1zM256.4 230.3h1v1h-1zM254.3 236.0h1v1h-1zM246.3 230.1h1v1h-1zM254.0 230.0h1v1h-1zM247.4 233.4h1v1h-1zM243.8 231.9h1v1h-1zM241.0 235.4h1v1h-1zM251.3 233.1h1v1h-1zM255.9 234.6h1v1h-1zM241.5 236.6h1v1h-1zM243.3 232.3h1v1h-1zM255.0 235.7h1v1h-1zM254.1 228.9h1v1h-1zM253.3 233.9h1v1h-1zM268.7 251.1h1v1h-1zM262.7 238.9h1v1h-1zM277.5 239.4h1v1h-1zM277.6 238.2h1v1h-1zM267.6 257.2h1v1h-1zM262.2 243.0h1v1h-1zM266.7 254.2h1v1h-1zM266.8 236.3h1v1h-1zM284.0 239.3h1v1h-1zM267.1 247.8h1v1h-1zM264.4 249.5h1v1h-1zM268.4 241.6h1v1h-1zM270.8 238.8h1v1h-1zM263.2 253.2h1v1h-1zM262.3 239.5h1v1h-1zM271.1 247.7h1v1h-1zM266.5 254.0h1v1h-1zM270.5 237.7h1v1h-1zM269.7 244.9h1v1h-1zM264.2 248.4h1v1h-1zM265.0 254.1h1v1h-1zM262.1 250.3h1v1h-1zM267.5 251.0h1v1h-1zM266.4 245.1h1v1h-1zM271.2 243.8h1v1h-1zM264.7 249.4h1v1h-1zM268.6 236.3h1v1h-1zM265.8 241.6h1v1h-1zM265.9 256.3h1v1h-1zM264.4 254.8h1v1h-1zM275.2 237.4h1v1h-1zM274.6 246.6h1v1h-1zM268.9 251.3h1v1h-1zM263.1 251.3h1v1h-1zM271.7 237.2h1v1h-1zM261.7 251.1h1v1h-1zM261.1 252.4h1v1h-1zM270.4 245.5h1v1h-1zM265.1 255.1h1v1h-1zM267.8 252.0h1v1h-1zM265.4 245.2h1v1h-1zM265.4 254.5h1v1h-1zM268.3 246.8h1v1h-1zM263.3 247.2h1v1h-1zM275.1 236.2h1v1h-1zM273.1 243.3h1v1h-1zM264.6 242.9h1v1h-1zM265.5 257.7h1v1h-1zM264.2 253.4h1v1h-1zM268.6 242.4h1v1h-1zM269.0 238.8h1v1h-1zM266.9 255.3h1v1h-1zM273.2 243.8h1v1h-1zM265.1 257.0h1v1h-1zM272.6 243.9h1v1h-1zM268.7 246.2h1v1h-1zM263.0 251.5h1v1h-1zM272.1 244.0h1v1h-1zM272.3 246.1h1v1h-1zM263.8 249.5h1v1h-1zM260.8 246.3h1v1h-1zM263.8 257.6h1v1h-1zM270.1 249.1h1v1h-1zM271.6 246.7h1v1h-1zM261.0 248.9h1v1h-1zM264.7 255.9h1v1h-1zM263.7 256.5h1v1h-1zM272.3 250.4h1v1h-1zM260.7 243.7h1v1h-1zM264.0 252.8h1v1h-1zM266.0 252.8h1v1h-1zM262.7 252.5h1v1h-1zM265.8 245.1h1v1h-1zM265.3 255.4h1v1h-1zM262.4 248.8h1v1h-1zM266.9 246.2h1v1h-1zM268.8 254.1h1v1h-1zM264.1 257.2h1v1h-1zM263.0 255.5h1v1h-1zM270.1 251.2h1v1h-1zM262.8 241.4h1v1h-1zM265.6 247.6h1v1h-1zM265.7 238.6h1v1h-1zM268.8 255.0h1v1h-1zM260.3 240.8h1v1h-1zM269.5 242.5h1v1h-1zM266.6 238.8h1v1h-1zM266.6 240.6h1v1h-1zM267.8 249.0h1v1h-1zM267.1 255.1h1v1h-1zM261.8 245.1h1v1h-1zM270.1 240.9h1v1h-1zM267.3 250.0h1v1h-1zM262.8 244.1h1v1h-1zM244.1 252.6h1v1h-1zM237.8 247.5h1v1h-1zM247.3 252.6h1v1h-1zM248.1 242.1h1v1h-1zM248.3 250.2h1v1h-1zM245.0 249.6h1v1h-1zM247.4 256.1h1v1h-1zM237.1 255.6h1v1h-1zM239.8 242.6h1v1h-1zM243.9 239.8h1v1h-1zM251.3 245.9h1v1h-1zM267.3 263.6h1v1h-1zM269.0 264.0h1v1h-1zM270.9 268.1h1v1h-1zM273.3 265.3h1v1h-1zM267.6 270.4h1v1h-1zM266.4 268.0h1v1h-1zM239.4 270.6h1v1h-1zM238.5 265.9h1v1h-1z" fill="#555" fill-opacity="0.34"/>
<path d="M269.0 230.5h1v1h-1zM280.9 237.0h1v1h-1zM249.1 232.4h1v1h-1zM252.4 232.7h1v1h-1zM250.7 230.5h1v1h-1zM264.2 229.7h1v1h-1zM244.9 230.8h1v1h-1zM276.2 232.2h1v1h-1zM265.1 230.2h1v1h-1zM254.4 231.3h1v1h-1zM270.2 230.5h1v1h-1zM247.5 230.5h1v1h-1zM282.4 230.2h1v1h-1zM261.6 227.8h1v1h-1zM276.6 231.9h1v1h-1zM267.6 235.8h1v1h-1zM270.4 229.9h1v1h-1zM258.5 231.6h1v1h-1zM272.5 233.9h1v1h-1zM260.0 240.8h1v1h-1zM266.0 235.0h1v1h-1zM279.3 230.3h1v1h-1zM273.1 236.5h1v1h-1zM273.1 236.0h1v1h-1zM247.9 232.6h1v1h-1zM263.5 228.5h1v1h-1zM252.1 233.1h1v1h-1zM266.6 233.7h1v1h-1zM249.7 238.3h1v1h-1zM269.4 228.9h1v1h-1zM268.4 240.7h1v1h-1zM281.0 235.8h1v1h-1zM274.2 232.2h1v1h-1zM270.4 230.1h1v1h-1zM274.6 230.0h1v1h-1zM262.0 229.7h1v1h-1zM263.7 235.3h1v1h-1zM267.8 229.2h1v1h-1zM281.7 231.3h1v1h-1zM248.2 231.4h1v1h-1zM264.7 231.2h1v1h-1zM259.8 230.8h1v1h-1zM260.1 231.3h1v1h-1zM240.4 230.5h1v1h-1zM268.5 233.0h1v1h-1zM237.8 229.3h1v1h-1zM266.4 231.1h1v1h-1zM240.5 231.5h1v1h-1zM280.4 231.5h1v1h-1zM246.6 231.2h1v1h-1zM270.6 233.8h1v1h-1zM268.9 229.0h1v1h-1zM269.0 230.4h1v1h-1zM281.2 230.9h1v1h-1zM271.1 235.0h1v1h-1zM240.9 233.2h1v1h-1zM249.1 238.1h1v1h-1zM268.1 239.1h1v1h-1zM276.5 228.9h1v1h-1zM272.4 230.2h1v1h-1zM243.3 234.6h1v1h-1zM259.2 230.5h1v1h-1zM281.3 235.8h1v1h-1zM270.3 229.1h1v1h-1zM277.5 233.2h1v1h-1zM265.7 230.9h1v1h-1zM260.5 229.1h1v1h-1zM270.2 230.8h1v1h-1zM248.4 229.6h1v1h-1zM267.4 230.8h1v1h-1zM276.1 230.9h1v1h-1zM237.4 229.7h1v1h-1zM277.8 229.1h1v1h-1zM272.9 234.0h1v1h-1zM275.1 233.9h1v1h-1zM263.1 231.7h1v1h-1zM264.6 240.8h1v1h-1zM283.5 230.9h1v1h-1zM269.0 233.0h1v1h-1zM239.2 229.8h1v1h-1zM271.8 236.1h1v1h-1zM260.4 231.2h1v1h-1zM272.9 229.2h1v1h-1zM238.3 229.0h1v1h-1zM257.4 234.1h1v1h-1zM262.2 232.2h1v1h-1zM242.3 235.4h1v1h-1zM259.6 238.4h1v1h-1zM247.9 227.7h1v1h-1zM249.0 234.5h1v1h-1zM281.7 229.6h1v1h-1zM283.1 239.1h1v1h-1zM275.3 238.4h1v1h-1zM277.6 236.3h1v1h-1zM279.9 230.0h1v1h-1zM276.6 238.0h1v1h-1zM253.7 228.2h1v1h-1zM266.1 230.4h1v1h-1zM282.5 232.2h1v1h-1zM247.4 230.1h1v1h-1zM248.5 228.8h1v1h-1zM278.0 228.6h1v1h-1zM271.7 231.3h1v1h-1zM237.2 231.3h1v1h-1zM248.7 229.7h1v1h-1zM277.0 233.2h1v1h-1zM243.1 228.1h1v1h-1zM256.0 236.2h1v1h-1zM256.5 230.9h1v1h-1zM273.0 229.8h1v1h-1zM272.8 229.4h1v1h-1zM264.9 233.9h1v1h-1zM254.4 229.7h1v1h-1zM277.4 232.5h1v1h-1zM269.0 232.3h1v1h-1zM263.9 233.3h1v1h-1zM283.8 229.2h1v1h-1zM246.3 231.0h1v1h-1zM240.0 230.9h1v1h-1zM270.0 233.5h1v1h-1zM240.9 234.4h1v1h-1zM252.3 235.0h1v1h-1zM257.0 234.3h1v1h-1zM263.9 236.9h1v1h-1zM280.7 232.4h1v1h-1zM270.6 239.0h1v1h-1zM280.0 232.5h1v1h-1zM277.5 230.2h1v1h-1zM262.0 236.6h1v1h-1zM279.3 231.0h1v1h-1zM262.7 230.1h1v1h-1zM252.9 231.6h1v1h-1zM259.6 234.6h1v1h-1zM247.3 234.1h1v1h-1zM249.1 231.4h1v1h-1zM265.4 235.0h1v1h-1zM268.2 230.9h1v1h-1zM284.6 230.5h1v1h-1zM274.3 227.4h1v1h-1zM272.7 237.9h1v1h-1zM259.0 232.4h1v1h-1zM276.0 234.1h1v1h-1zM272.9 229.9h1v1h-1zM268.9 230.2h1v1h-1zM275.4 231.1h1v1h-1zM239.4 230.3h1v1h-1zM269.5 238.6h1v1h-1zM260.2 237.6h1v1h-1zM269.6 236.6h1v1h-1zM244.2 231.0h1v1h-1zM277.9 240.0h1v1h-1zM250.4 231.1h1v1h-1zM247.4 233.5h1v1h-1zM261.2 229.6h1v1h-1zM284.7 230.4h1v1h-1zM271.1 231.8h1v1h-1zM255.9 233.9h1v1h-1zM283.8 234.8h1v1h-1zM248.0 230.3h1v1h-1zM284.3 234.4h1v1h-1zM255.6 231.1h1v1h-1zM245.5 229.5h1v1h-1zM246.9 230.0h1v1h-1zM273.5 230.0h1v1h-1zM277.9 236.5h1v1h-1zM271.3 230.4h1v1h-1zM251.1 230.9h1v1h-1zM249.0 229.2h1v1h-1zM272.7 237.9h1v1h-1zM273.4 231.2h1v1h-1zM261.8 231.0h1v1h-1zM250.3 230.9h1v1h-1zM246.3 230.8h1v1h-1zM280.9 235.5h1v1h-1zM249.1 231.4h1v1h-1zM237.6 231.4h1v1h-1zM276.5 232.2h1v1h-1zM254.6 231.4h1v1h-1zM278.5 233.6h1v1h-1zM284.6 230.3h1v1h-1zM240.5 236.9h1v1h-1zM245.6 231.5h1v1h-1zM266.7 228.5h1v1h-1zM247.1 230.2h1v1h-1zM237.0 229.7h1v1h-1zM247.2 233.3h1v1h-1zM258.6 233.0h1v1h-1zM253.8 232.4h1v1h-1zM275.1 232.0h1v1h-1zM278.9 229.8h1v1h-1zM277.9 238.0h1v1h-1zM247.6 235.1h1v1h-1zM273.0 231.0h1v1h-1zM275.4 231.6h1v1h-1zM280.4 234.9h1v1h-1zM254.8 230.6h1v1h-1zM253.1 229.4h1v1h-1zM256.1 234.4h1v1h-1zM257.0 231.1h1v1h-1zM271.3 230.9h1v1h-1zM238.7 235.6h1v1h-1zM248.8 229.8h1v1h-1zM271.6 236.3h1v1h-1zM268.3 230.1h1v1h-1zM249.7 229.1h1v1h-1zM256.8 233.4h1v1h-1zM258.5 231.8h1v1h-1zM241.6 234.9h1v1h-1zM249.2 230.6h1v1h-1zM255.5 228.8h1v1h-1zM241.1 228.7h1v1h-1zM257.7 231.9h1v1h-1zM248.2 230.5h1v1h-1zM253.9 230.1h1v1h-1zM252.3 229.5h1v1h-1zM255.1 231.4h1v1h-1zM271.0 235.9h1v1h-1zM253.7 230.5h1v1h-1zM257.0 229.8h1v1h-1zM274.7 231.6h1v1h-1zM262.6 230.1h1v1h-1zM269.2 234.4h1v1h-1zM275.1 230.3h1v1h-1zM258.7 228.8h1v1h-1zM249.1 234.5h1v1h-1zM276.0 230.7h1v1h-1zM271.5 234.9h1v1h-1zM261.1 233.2h1v1h-1zM249.3 234.2h1v1h-1zM264.4 231.0h1v1h-1zM263.6 231.4h1v1h-1zM276.6 240.3h1v1h-1zM269.4 231.0h1v1h-1zM255.0 230.6h1v1h-1zM265.1 240.1h1v1h-1zM254.8 237.1h1v1h-1zM270.6 235.0h1v1h-1zM261.2 236.1h1v1h-1zM268.2 229.0h1v1h-1zM270.0 236.0h1v1h-1zM248.2 230.0h1v1h-1zM271.2 231.0h1v1h-1zM279.3 227.9h1v1h-1zM274.7 236.7h1v1h-1zM263.4 235.2h1v1h-1zM274.8 237.3h1v1h-1zM256.5 234.6h1v1h-1zM278.4 231.1h1v1h-1zM281.9 230.3h1v1h-1zM265.5 230.3h1v1h-1zM264.3 229.1h1v1h-1zM248.8 229.9h1v1h-1zM279.5 232.8h1v1h-1zM244.4 230.5h1v1h-1zM267.7 234.8h1v1h-1zM245.3 232.6h1v1h-1zM266.2 231.8h1v1h-1zM258.4 228.5h1v1h-1zM244.2 231.6h1v1h-1zM255.2 229.5h1v1h-1zM239.6 229.6h1v1h-1zM245.9 231.8h1v1h-1zM238.7 230.1h1v1h-1zM281.2 234.1h1v1h-1zM248.6 228.8h1v1h-1zM244.5 229.9h1v1h-1zM268.3 237.0h1v1h-1zM252.4 227.6h1v1h-1zM237.1 232.6h1v1h-1zM262.1 230.3h1v1h-1zM265.2 231.4h1v1h-1zM265.1 235.2h1v1h-1zM256.3 233.2h1v1h-1zM259.3 231.7h1v1h-1zM251.9 231.5h1v1h-1zM280.4 233.9h1v1h-1zM271.2 232.5h1v1h-1zM276.2 231.5h1v1h-1zM249.0 237.4h1v1h-1zM281.9 232.3h1v1h-1zM265.3 234.0h1v1h-1zM249.3 229.2h1v1h-1zM275.2 233.7h1v1h-1zM251.1 233.0h1v1h-1zM245.9 228.4h1v1h-1zM248.2 232.9h1v1h-1zM272.7 237.0h1v1h-1zM251.3 230.0h1v1h-1zM243.9 228.9h1v1h-1zM239.2 235.3h1v1h-1zM252.1 229.3h1v1h-1zM275.3 235.4h1v1h-1zM248.8 231.6h1v1h-1zM270.8 230.4h1v1h-1zM242.2 231.1h1v1h-1zM246.2 229.3h1v1h-1zM253.3 227.9h1v1h-1zM279.4 229.1h1v1h-1zM254.5 231.0h1v1h-1zM242.1 234.1h1v1h-1zM270.0 232.2h1v1h-1zM267.2 230.2h1v1h-1zM237.7 229.3h1v1h-1zM276.8 235.7h1v1h-1zM255.7 233.2h1v1h-1zM273.3 233.0h1v1h-1zM252.9 229.3h1v1h-1zM254.6 228.7h1v1h-1zM242.4 229.1h1v1h-1zM277.5 229.0h1v1h-1zM272.3 230.6h1v1h-1zM247.1 231.1h1v1h-1zM252.9 235.0h1v1h-1zM272.6 229.3h1v1h-1zM278.3 236.8h1v1h-1zM253.1 230.2h1v1h-1zM255.8 230.0h1v1h-1zM269.5 231.3h1v1h-1zM280.3 236.6h1v1h-1zM270.7 235.8h1v1h-1zM260.4 231.2h1v1h-1zM256.0 234.2h1v1h-1zM245.4 228.5h1v1h-1zM270.4 232.0h1v1h-1zM265.1 231.5h1v1h-1zM268.2 234.1h1v1h-1zM279.4 234.6h1v1h-1zM272.7 234.6h1v1h-1zM270.1 229.1h1v1h-1zM275.6 232.2h1v1h-1zM275.1 230.6h1v1h-1zM265.4 229.5h1v1h-1zM238.5 232.0h1v1h-1zM261.7 228.2h1v1h-1zM269.4 230.5h1v1h-1zM237.6 230.6h1v1h-1zM242.7 229.9h1v1h-1zM253.6 231.6h1v1h-1zM252.1 232.3h1v1h-1zM284.4 233.6h1v1h-1zM241.0 228.7h1v1h-1zM281.3 236.7h1v1h-1zM246.6 229.1h1v1h-1zM271.3 232.8h1v1h-1zM283.6 228.5h1v1h-1zM263.5 230.5h1v1h-1zM260.3 231.7h1v1h-1zM267.5 231.6h1v1h-1zM243.8 234.3h1v1h-1zM264.8 232.1h1v1h-1zM274.1 233.4h1v1h-1zM258.3 232.9h1v1h-1zM247.7 230.9h1v1h-1zM276.1 230.9h1v1h-1zM257.6 229.0h1v1h-1zM253.3 231.2h1v1h-1zM263.4 231.0h1v1h-1zM281.3 228.2h1v1h-1zM250.0 229.2h1v1h-1zM278.0 236.4h1v1h-1zM238.2 232.7h1v1h-1zM258.0 231.0h1v1h-1zM246.2 230.6h1v1h-1zM251.9 230.5h1v1h-1zM273.7 233.3h1v1h-1zM265.9 229.5h1v1h-1zM278.2 229.4h1v1h-1zM252.3 230.5h1v1h-1zM240.4 232.6h1v1h-1zM257.4 231.9h1v1h-1zM253.0 233.0h1v1h-1zM242.1 235.9h1v1h-1zM270.3 233.4h1v1h-1zM255.7 232.9h1v1h-1zM253.5 229.4h1v1h-1zM256.4 231.7h1v1h-1zM242.8 234.1h1v1h-1zM247.7 232.1h1v1h-1zM277.2 231.3h1v1h-1zM251.2 234.5h1v1h-1zM269.3 234.0h1v1h-1zM274.4 231.7h1v1h-1zM281.2 236.4h1v1h-1zM257.5 231.6h1v1h-1zM250.7 230.6h1v1h-1zM254.3 233.7h1v1h-1zM258.1 228.9h1v1h-1zM273.1 234.3h1v1h-1zM246.5 229.6h1v1h-1zM268.0 229.1h1v1h-1zM260.2 239.0h1v1h-1zM236.9 237.3h1v1h-1zM261.0 229.4h1v1h-1zM251.2 233.5h1v1h-1zM264.3 240.2h1v1h-1zM274.0 233.6h1v1h-1zM261.7 234.6h1v1h-1zM282.6 233.5h1v1h-1zM261.2 232.9h1v1h-1zM272.1 236.6h1v1h-1zM266.9 233.4h1v1h-1zM273.7 237.8h1v1h-1zM276.1 233.5h1v1h-1zM266.5 234.0h1v1h-1zM267.0 238.6h1v1h-1zM272.1 236.3h1v1h-1zM279.9 230.1h1v1h-1zM278.4 236.4h1v1h-1zM282.0 232.7h1v1h-1zM274.7 232.4h1v1h-1zM262.7 231.0h1v1h-1zM260.2 236.5h1v1h-1zM264.7 234.0h1v1h-1zM264.2 236.0h1v1h-1zM263.8 234.1h1v1h-1zM261.3 235.7h1v1h-1zM259.1 236.7h1v1h-1zM268.6 234.4h1v1h-1zM267.1 233.8h1v1h-1zM274.9 234.5h1v1h-1zM276.0 238.8h1v1h-1zM271.2 235.4h1v1h-1zM275.5 238.0h1v1h-1zM276.1 231.6h1v1h-1zM271.3 234.2h1v1h-1zM265.2 235.6h1v1h-1zM264.1 234.0h1v1h-1zM278.4 236.0h1v1h-1zM278.0 237.7h1v1h-1zM265.8 234.2h1v1h-1zM271.6 235.4h1v1h-1zM267.0 234.3h1v1h-1zM272.5 232.8h1v1h-1zM273.8 233.7h1v1h-1zM279.5 232.8h1v1h-1zM275.6 238.8h1v1h-1zM267.5 230.0h1v1h-1zM271.0 238.4h1v1h-1zM276.5 237.1h1v1h-1zM263.0 234.3h1v1h-1zM261.2 236.1h1v1h-1zM280.6 237.0h1v1h-1zM260.2 237.3h1v1h-1zM275.3 231.4h1v1h-1zM267.5 232.9h1v1h-1zM271.2 229.1h1v1h-1zM272.2 232.9h1v1h-1zM283.0 234.7h1v1h-1zM276.5 230.8h1v1h-1zM270.2 233.5h1v1h-1zM264.5 229.6h1v1h-1zM282.0 234.3h1v1h-1zM276.0 239.0h1v1h-1zM279.5 234.7h1v1h-1zM261.3 235.5h1v1h-1zM277.5 237.9h1v1h-1zM279.4 238.5h1v1h-1zM276.9 231.8h1v1h-1zM281.1 228.8h1v1h-1zM272.6 234.3h1v1h-1zM275.1 234.6h1v1h-1zM267.8 234.5h1v1h-1zM270.2 236.9h1v1h-1zM273.0 232.6h1v1h-1zM273.2 234.8h1v1h-1zM281.4 231.0h1v1h-1zM270.7 229.5h1v1h-1zM274.5 234.5h1v1h-1zM267.3 234.1h1v1h-1zM267.0 237.8h1v1h-1zM283.2 228.7h1v1h-1zM272.2 237.3h1v1h-1zM269.6 237.8h1v1h-1zM274.2 236.3h1v1h-1zM276.7 235.3h1v1h-1zM276.6 231.2h1v1h-1zM267.7 232.3h1v1h-1zM262.7 235.3h1v1h-1zM276.1 235.6h1v1h-1zM278.8 236.1h1v1h-1zM265.7 234.1h1v1h-1zM276.7 238.9h1v1h-1zM274.8 235.2h1v1h-1zM266.9 231.2h1v1h-1zM274.8 228.7h1v1h-1zM266.6 233.4h1v1h-1zM259.9 235.1h1v1h-1zM281.7 234.8h1v1h-1zM274.1 238.2h1v1h-1zM280.9 231.1h1v1h-1zM282.1 234.3h1v1h-1zM265.7 234.3h1v1h-1zM279.0 235.5h1v1h-1zM271.1 234.3h1v1h-1zM267.7 231.3h1v1h-1zM272.4 231.4h1v1h-1zM281.0 232.0h1v1h-1zM275.5 231.1h1v1h-1zM268.6 231.3h1v1h-1zM263.5 232.6h1v1h-1zM274.3 235.3h1v1h-1zM282.1 233.5h1v1h-1zM265.6 235.1h1v1h-1zM264.7 235.3h1v1h-1zM264.4 237.9h1v1h-1zM277.7 231.5h1v1h-1zM261.4 237.2h1v1h-1zM269.8 233.7h1v1h-1zM266.4 235.3h1v1h-1zM268.5 235.6h1v1h-1zM262.3 235.6h1v1h-1zM265.5 229.5h1v1h-1zM280.4 235.4h1v1h-1zM277.0 233.7h1v1h-1zM275.6 235.7h1v1h-1zM274.0 237.7h1v1h-1zM283.1 235.4h1v1h-1zM263.0 231.5h1v1h-1zM270.1 236.8h1v1h-1zM265.3 235.2h1v1h-1zM279.8 234.0h1v1h-1zM269.8 236.0h1v1h-1zM269.4 234.9h1v1h-1zM279.0 229.8h1v1h-1zM275.7 237.1h1v1h-1zM275.6 238.3h1v1h-1zM277.8 236.0h1v1h-1zM267.5 232.9h1v1h-1zM266.8 233.9h1v1h-1zM268.7 237.7h1v1h-1zM279.7 235.1h1v1h-1zM262.9 234.2h1v1h-1zM268.5 234.8h1v1h-1zM262.2 232.7h1v1h-1zM266.7 236.9h1v1h-1zM254.1 231.2h1v1h-1zM248.5 234.3h1v1h-1zM258.0 231.1h1v1h-1zM242.2 236.6h1v1h-1zM243.2 233.6h1v1h-1zM257.3 235.1h1v1h-1zM248.8 229.9h1v1h-1zM242.6 234.1h1v1h-1zM239.1 235.8h1v1h-1zM244.3 231.1h1v1h-1zM241.6 232.3h1v1h-1zM255.6 234.5h1v1h-1zM241.9 236.9h1v1h-1zM246.1 234.7h1v1h-1zM238.9 231.7h1v1h-1zM244.2 237.3h1v1h-1zM239.7 234.0h1v1h-1zM239.0 231.8h1v1h-1zM248.5 231.3h1v1h-1zM244.8 232.9h1v1h-1zM256.1 234.2h1v1h-1zM242.0 228.8h1v1h-1zM251.2 232.5h1v1h-1zM240.3 230.7h1v1h-1zM238.6 234.8h1v1h-1zM247.6 234.8h1v1h-1zM244.8 235.8h1v1h-1zM244.8 236.4h1v1h-1zM253.1 230.9h1v1h-1zM241.5 235.2h1v1h-1zM253.9 232.6h1v1h-1zM240.6 229.0h1v1h-1zM244.8 236.1h1v1h-1zM240.6 232.0h1v1h-1zM243.3 232.5h1v1h-1zM250.5 236.3h1v1h-1zM250.3 230.2h1v1h-1zM240.7 233.8h1v1h-1zM247.6 236.6h1v1h-1zM238.7 234.6h1v1h-1zM241.6 233.5h1v1h-1zM251.6 231.0h1v1h-1zM257.6 231.9h1v1h-1zM248.6 230.5h1v1h-1zM255.0 232.5h1v1h-1zM246.3 233.8h1v1h-1zM242.1 230.4h1v1h-1zM250.6 231.9h1v1h-1zM262.0 255.6h1v1h-1zM264.9 257.0h1v1h-1zM271.7 241.0h1v1h-1zM264.1 256.0h1v1h-1zM270.8 238.6h1v1h-1zM265.8 253.0h1v1h-1zM267.3 252.4h1v1h-1zM264.9 256.9h1v1h-1zM266.0 257.4h1v1h-1zM264.9 255.9h1v1h-1zM262.2 250.2h1v1h-1zM266.9 248.6h1v1h-1zM262.6 239.5h1v1h-1zM265.7 248.0h1v1h-1zM266.7 240.3h1v1h-1zM265.8 240.9h1v1h-1zM269.0 253.2h1v1h-1zM269.7 252.8h1v1h-1zM266.5 249.4h1v1h-1zM265.3 236.1h1v1h-1zM265.2 238.6h1v1h-1zM275.6 248.3h1v1h-1zM262.2 243.7h1v1h-1zM259.6 240.1h1v1h-1zM265.8 250.5h1v1h-1zM269.6 249.6h1v1h-1zM262.6 244.0h1v1h-1zM266.4 255.6h1v1h-1zM268.5 247.5h1v1h-1zM266.4 254.7h1v1h-1zM269.3 247.6h1v1h-1zM269.3 239.5h1v1h-1zM266.9 236.9h1v1h-1zM288.7 238.0h1v1h-1zM261.5 244.1h1v1h-1zM263.3 255.1h1v1h-1zM264.7 255.4h1v1h-1zM275.3 246.9h1v1h-1zM265.0 256.6h1v1h-1zM267.4 254.7h1v1h-1zM274.6 239.7h1v1h-1zM261.6 242.5h1v1h-1zM259.7 244.3h1v1h-1zM269.4 236.3h1v1h-1zM268.1 250.6h1v1h-1zM262.8 247.2h1v1h-1zM268.5 251.5h1v1h-1zM268.7 247.5h1v1h-1zM272.0 241.2h1v1h-1zM267.3 253.6h1v1h-1zM261.6 246.3h1v1h-1zM270.5 247.5h1v1h-1zM263.6 255.5h1v1h-1zM269.2 247.7h1v1h-1zM266.3 256.2h1v1h-1zM262.3 243.5h1v1h-1zM273.4 244.8h1v1h-1zM271.2 239.9h1v1h-1zM271.2 254.2h1v1h-1zM265.2 257.7h1v1h-1zM266.5 257.0h1v1h-1zM265.5 247.1h1v1h-1zM265.1 241.8h1v1h-1zM261.9 254.8h1v1h-1zM265.8 256.3h1v1h-1zM266.1 243.9h1v1h-1zM267.3 250.9h1v1h-1zM271.3 239.4h1v1h-1zM261.3 246.4h1v1h-1zM263.8 252.5h1v1h-1zM268.3 246.6h1v1h-1zM271.4 240.0h1v1h-1zM269.3 244.9h1v1h-1zM270.4 249.4h1v1h-1zM265.2 256.4h1v1h-1zM268.7 245.1h1v1h-1zM270.6 240.6h1v1h-1zM270.5 246.6h1v1h-1zM262.5 241.6h1v1h-1zM271.6 246.9h1v1h-1zM262.9 246.5h1v1h-1zM260.9 251.3h1v1h-1zM265.2 243.7h1v1h-1zM266.0 249.1h1v1h-1zM264.1 242.5h1v1h-1zM263.7 253.4h1v1h-1zM265.3 249.9h1v1h-1zM266.7 248.5h1v1h-1zM267.2 242.2h1v1h-1zM271.4 243.2h1v1h-1zM267.8 245.5h1v1h-1zM271.2 237.9h1v1h-1zM266.9 237.4h1v1h-1zM247.3 242.5h1v1h-1zM253.1 239.9h1v1h-1zM250.3 248.8h1v1h-1zM246.2 244.6h1v1h-1zM244.0 254.1h1v1h-1zM248.5 255.2h1v1h-1zM245.6 256.0h1v1h-1zM243.7 244.0h1v1h-1zM254.2 256.6h1v1h-1zM249.7 256.5h1v1h-1zM255.9 246.0h1v1h-1zM256.3 251.4h1v1h-1zM263.4 270.6h1v1h-1zM264.4 271.4h1v1h-1zM260.2 266.2h1v1h-1zM274.7 265.6h1v1h-1zM275.8 266.7h1v1h-1zM261.7 267.7h1v1h-1zM251.3 266.2h1v1h-1zM249.0 266.4h1v1h-1z" fill="#555" fill-opacity="0.34"/>
<path d="M269.3 229.3h1v1h-1zM251.6 235.4h1v1h-1zM257.9 235.3h1v1h-1zM251.9 229.5h1v1h-1zM269.5 229.6h1v1h-1zM271.1 234.8h1v1h-1zM263.0 229.0h1v1h-1zM280.7 231.3h1v1h-1zM282.4 236.1h1v1h-1zM255.4 229.7h1v1h-1zM240.0 230.5h1v1h-1zM269.8 230.2h1v1h-1zM281.9 230.8h1v1h-1zM280.1 234.3h1v1h-1zM244.3 229.5h1v1h-1zM281.6 227.7h1v1h-1zM281.7 233.2h1v1h-1zM249.9 230.3h1v1h-1zM273.7 229.1h1v1h-1zM241.1 229.8h1v1h-1zM250.6 230.7h1v1h-1zM251.5 231.6h1v1h-1zM247.3 228.7h1v1h-1zM255.7 229.2h1v1h-1zM258.5 230.8h1v1h-1zM260.0 235.4h1v1h-1zM270.2 232.6h1v1h-1zM236.8 232.7h1v1h-1zM282.7 230.2h1v1h-1zM280.7 239.6h1v1h-1zM253.9 232.8h1v1h-1zM270.1 231.5h1v1h-1zM278.1 231.6h1v1h-1zM259.3 228.8h1v1h-1zM249.5 234.0h1v1h-1zM239.8 231.7h1v1h-1zM274.2 229.7h1v1h-1zM271.4 231.2h1v1h-1zM267.6 231.0h1v1h-1zM279.8 238.4h1v1h-1zM274.3 230.1h1v1h-1zM273.2 239.8h1v1h-1zM246.2 232.0h1v1h-1zM281.0 234.9h1v1h-1zM275.9 230.9h1v1h-1zM259.8 233.0h1v1h-1zM275.4 233.2h1v1h-1zM238.0 233.3h1v1h-1zM250.6 235.4h1v1h-1zM265.7 230.8h1v1h-1zM270.6 232.6h1v1h-1zM244.5 230.1h1v1h-1zM266.4 228.1h1v1h-1zM236.5 231.9h1v1h-1zM253.2 232.1h1v1h-1zM271.2 236.5h1v1h-1zM256.5 229.3h1v1h-1zM253.3 229.6h1v1h-1zM271.9 231.0h1v1h-1zM271.3 228.9h1v1h-1zM273.6 232.6h1v1h-1zM248.7 230.1h1v1h-1zM254.2 232.3h1v1h-1zM281.1 236.0h1v1h-1zM259.9 231.4h1v1h-1zM245.2 230.8h1v1h-1zM252.4 232.7h1v1h-1zM253.2 230.9h1v1h-1zM257.9 229.8h1v1h-1zM259.5 228.9h1v1h-1zM255.4 233.3h1v1h-1zM280.5 231.6h1v1h-1zM261.7 230.7h1v1h-1zM283.8 230.8h1v1h-1zM270.8 232.2h1v1h-1zM276.1 229.6h1v1h-1zM247.2 229.3h1v1h-1zM249.6 229.4h1v1h-1zM265.7 232.0h1v1h-1zM242.1 231.0h1v1h-1zM280.4 230.0h1v1h-1zM255.4 233.8h1v1h-1zM267.0 237.2h1v1h-1zM245.2 228.2h1v1h-1zM243.6 228.7h1v1h-1zM266.6 232.4h1v1h-1zM243.6 232.8h1v1h-1zM251.3 230.2h1v1h-1zM239.2 239.8h1v1h-1zM268.7 234.6h1v1h-1zM246.8 231.4h1v1h-1zM271.2 231.6h1v1h-1zM258.5 229.8h1v1h-1zM242.4 230.5h1v1h-1zM245.2 234.5h1v1h-1zM258.4 230.0h1v1h-1zM255.9 235.4h1v1h-1zM275.5 236.0h1v1h-1zM265.8 232.7h1v1h-1zM267.3 236.4h1v1h-1zM272.4 235.3h1v1h-1zM253.4 230.8h1v1h-1zM260.5 234.4h1v1h-1zM250.7 232.0h1v1h-1zM257.4 232.4h1v1h-1zM254.0 232.0h1v1h-1zM269.4 231.2h1v1h-1zM256.2 234.4h1v1h-1zM244.3 231.8h1v1h-1zM278.0 231.0h1v1h-1zM272.0 229.3h1v1h-1zM248.2 229.8h1v1h-1zM280.1 232.4h1v1h-1zM267.3 230.5h1v1h-1zM265.4 230.5h1v1h-1zM267.0 233.8h1v1h-1zM270.2 233.9h1v1h-1zM279.6 230.8h1v1h-1zM244.4 229.5h1v1h-1zM246.5 228.8h1v1h-1zM283.5 234.0h1v1h-1zM266.4 231.5h1v1h-1zM277.1 231.9h1v1h-1zM274.2 229.5h1v1h-1zM245.1 230.0h1v1h-1zM276.4 229.3h1v1h-1zM237.8 229.3h1v1h-1zM245.4 227.9h1v1h-1zM272.5 235.9h1v1h-1zM258.8 231.0h1v1h-1zM270.9 231.3h1v1h-1zM280.7 236.4h1v1h-1zM277.0 230.7h1v1h-1zM274.3 227.6h1v1h-1zM265.9 234.5h1v1h-1zM270.8 229.3h1v1h-1zM240.4 231.8h1v1h-1zM250.5 230.2h1v1h-1zM269.2 235.3h1v1h-1zM257.1 234.5h1v1h-1zM241.2 229.7h1v1h-1zM267.5 230.6h1v1h-1zM268.7 229.5h1v1h-1zM269.0 232.7h1v1h-1zM248.9 227.9h1v1h-1zM269.9 230.0h1v1h-1zM251.7 232.2h1v1h-1zM279.2 233.9h1v1h-1zM273.4 229.8h1v1h-1zM279.9 232.2h1v1h-1zM269.1 229.0h1v1h-1zM261.7 239.3h1v1h-1zM256.9 230.0h1v1h-1zM274.4 230.8h1v1h-1zM245.8 229.9h1v1h-1zM243.2 232.3h1v1h-1zM259.0 233.1h1v1h-1zM245.4 230.6h1v1h-1zM250.4 227.9h1v1h-1zM266.4 235.1h1v1h-1zM274.6 233.3h1v1h-1zM280.9 234.5h1v1h-1zM259.6 231.3h1v1h-1zM279.7 235.0h1v1h-1zM251.5 231.1h1v1h-1zM281.9 231.0h1v1h-1zM282.3 237.5h1v1h-1zM237.5 229.4h1v1h-1zM242.4 230.7h1v1h-1zM251.7 231.9h1v1h-1zM247.0 233.5h1v1h-1zM282.2 231.2h1v1h-1zM264.4 235.0h1v1h-1zM240.1 232.5h1v1h-1zM272.2 229.3h1v1h-1zM267.2 228.3h1v1h-1zM247.4 229.6h1v1h-1zM245.3 228.8h1v1h-1zM280.2 238.0h1v1h-1zM248.0 232.4h1v1h-1zM238.1 237.5h1v1h-1zM277.4 231.6h1v1h-1zM275.5 236.5h1v1h-1zM263.6 230.8h1v1h-1zM240.1 230.0h1v1h-1zM270.0 241.3h1v1h-1zM279.8 228.8h1v1h-1zM265.8 234.3h1v1h-1zM273.1 233.7h1v1h-1zM258.4 231.2h1v1h-1zM264.4 232.9h1v1h-1zM250.8 235.6h1v1h-1zM258.1 232.6h1v1h-1zM257.4 230.4h1v1h-1zM256.3 229.1h1v1h-1zM254.0 233.5h1v1h-1zM260.8 228.4h1v1h-1zM279.2 230.7h1v1h-1zM259.5 229.4h1v1h-1zM242.8 231.7h1v1h-1zM243.0 232.9h1v1h-1zM274.8 233.5h1v1h-1zM277.8 233.2h1v1h-1zM244.4 229.1h1v1h-1zM278.9 238.4h1v1h-1zM277.8 235.7h1v1h-1zM283.2 229.1h1v1h-1zM273.1 235.5h1v1h-1zM274.6 230.9h1v1h-1zM242.9 230.2h1v1h-1zM272.6 234.4h1v1h-1zM255.4 229.9h1v1h-1zM252.2 229.6h1v1h-1zM252.8 229.9h1v1h-1zM255.8 231.8h1v1h-1zM255.0 229.8h1v1h-1zM267.0 235.2h1v1h-1zM245.5 228.9h1v1h-1zM279.3 229.0h1v1h-1zM259.3 231.4h1v1h-1zM272.0 234.0h1v1h-1zM276.8 233.4h1v1h-1zM260.9 230.3h1v1h-1zM263.8 231.4h1v1h-1zM274.3 230.9h1v1h-1zM237.2 230.8h1v1h-1zM278.6 232.8h1v1h-1zM237.9 234.0h1v1h-1zM259.8 230.4h1v1h-1zM266.0 235.5h1v1h-1zM260.1 233.2h1v1h-1zM263.3 230.9h1v1h-1zM248.6 233.3h1v1h-1zM245.1 231.0h1v1h-1zM246.0 229.5h1v1h-1zM279.4 228.9h1v1h-1zM255.9 230.4h1v1h-1zM270.9 227.7h1v1h-1zM259.4 233.0h1v1h-1zM269.2 232.4h1v1h-1zM266.5 234.6h1v1h-1zM282.6 232.6h1v1h-1zM256.5 231.9h1v1h-1zM265.8 232.5h1v1h-1zM268.2 232.3h1v1h-1zM270.0 236.9h1v1h-1zM242.0 233.1h1v1h-1zM284.7 233.3h1v1h-1zM267.0 234.0h1v1h-1zM272.5 234.5h1v1h-1zM275.8 231.8h1v1h-1zM263.8 241.9h1v1h-1zM267.2 229.4h1v1h-1zM254.3 228.7h1v1h-1zM270.2 228.0h1v1h-1zM263.4 228.3h1v1h-1zM269.3 231.9h1v1h-1zM282.9 234.4h1v1h-1zM241.7 229.3h1v1h-1zM273.0 232.6h1v1h-1zM260.6 235.5h1v1h-1zM257.9 230.2h1v1h-1zM244.6 232.1h1v1h-1zM271.1 241.5h1v1h-1zM252.8 233.3h1v1h-1zM244.3 230.7h1v1h-1zM240.0 229.7h1v1h-1zM269.9 235.7h1v1h-1zM260.0 239.3h1v1h-1zM279.9 236.2h1v1h-1zM263.4 232.3h1v1h-1zM241.4 230.9h1v1h-1zM243.2 234.5h1v1h-1zM278.8 231.7h1v1h-1zM239.3 232.6h1v1h-1zM267.3 236.5h1v1h-1zM252.9 232.2h1v1h-1zM273.9 232.9h1v1h-1zM268.0 230.5h1v1h-1zM276.5 229.3h1v1h-1zM263.4 235.4h1v1h-1zM258.8 230.0h1v1h-1zM257.9 232.2h1v1h-1zM258.9 233.9h1v1h-1zM279.4 231.8h1v1h-1zM280.3 234.2h1v1h-1zM254.9 229.6h1v1h-1zM259.0 232.1h1v1h-1zM259.8 236.6h1v1h-1zM250.6 230.5h1v1h-1zM257.8 234.7h1v1h-1zM260.2 232.6h1v1h-1zM254.0 229.2h1v1h-1zM275.8 228.5h1v1h-1zM275.7 231.6h1v1h-1zM271.2 231.9h1v1h-1zM252.8 231.2h1v1h-1zM248.7 230.4h1v1h-1zM250.9 233.0h1v1h-1zM272.5 233.4h1v1h-1zM247.8 232.4h1v1h-1zM241.7 231.1h1v1h-1zM252.6 229.8h1v1h-1zM276.5 237.3h1v1h-1zM239.2 229.5h1v1h-1zM249.1 232.1h1v1h-1zM250.2 231.7h1v1h-1zM270.8 230.6h1v1h-1zM237.7 232.9h1v1h-1zM254.2 230.5h1v1h-1zM247.1 230.7h1v1h-1zM283.9 235.9h1v1h-1zM245.6 231.0h1v1h-1zM266.1 231.2h1v1h-1zM247.1 231.7h1v1h-1zM266.7 230.2h1v1h-1zM240.4 232.8h1v1h-1zM283.0 230.1h1v1h-1zM273.6 232.2h1v1h-1zM271.4 232.6h1v1h-1zM241.2 228.9h1v1h-1zM279.4 230.0h1v1h-1zM268.0 237.0h1v1h-1zM246.8 230.5h1v1h-1zM268.1 230.9h1v1h-1zM269.3 229.7h1v1h-1zM277.0 236.3h1v1h-1zM265.4 228.9h1v1h-1zM267.1 229.9h1v1h-1zM276.7 234.1h1v1h-1zM252.5 228.5h1v1h-1zM249.9 231.7h1v1h-1zM264.3 230.7h1v1h-1zM273.5 230.8h1v1h-1zM260.0 233.0h1v1h-1zM244.2 231.0h1v1h-1zM263.0 237.8h1v1h-1zM265.9 230.4h1v1h-1zM272.0 231.2h1v1h-1zM240.7 229.9h1v1h-1zM243.1 233.7h1v1h-1zM254.3 230.9h1v1h-1zM271.3 232.7h1v1h-1zM242.5 231.6h1v1h-1zM249.5 229.7h1v1h-1zM274.9 229.4h1v1h-1zM248.5 231.7h1v1h-1zM263.7 236.1h1v1h-1zM261.7 232.6h1v1h-1zM273.6 234.3h1v1h-1zM276.2 235.1h1v1h-1zM256.0 230.8h1v1h-1zM257.0 231.6h1v1h-1zM271.4 231.2h1v1h-1zM265.8 234.3h1v1h-1zM246.3 229.5h1v1h-1zM241.7 230.6h1v1h-1zM243.4 232.7h1v1h-1zM274.7 232.1h1v1h-1zM253.5 233.1h1v1h-1zM246.7 231.8h1v1h-1zM274.3 234.5h1v1h-1zM281.0 231.2h1v1h-1zM272.9 234.8h1v1h-1zM259.9 235.6h1v1h-1zM238.8 234.9h1v1h-1zM247.3 232.4h1v1h-1zM243.2 228.5h1v1h-1zM277.8 230.9h1v1h-1zM283.2 234.7h1v1h-1zM245.6 232.9h1v1h-1zM272.1 233.8h1v1h-1zM243.2 227.9h1v1h-1zM269.6 231.7h1v1h-1zM276.2 234.0h1v1h-1zM251.9 233.0h1v1h-1zM251.4 229.4h1v1h-1zM272.1 231.7h1v1h-1zM256.8 230.6h1v1h-1zM280.1 229.7h1v1h-1zM262.2 230.3h1v1h-1zM280.8 229.5h1v1h-1zM252.5 228.4h1v1h-1zM262.0 230.6h1v1h-1zM245.0 230.8h1v1h-1zM245.6 230.7h1v1h-1zM255.5 233.5h1v1h-1zM262.6 228.9h1v1h-1zM247.1 231.4h1v1h-1zM262.2 239.6h1v1h-1zM248.3 230.6h1v1h-1zM239.8 231.7h1v1h-1zM274.8 231.0h1v1h-1zM267.8 229.5h1v1h-1zM255.5 235.5h1v1h-1zM275.0 235.3h1v1h-1zM267.4 242.0h1v1h-1zM264.0 235.1h1v1h-1zM269.6 231.3h1v1h-1zM264.6 234.2h1v1h-1zM270.5 236.0h1v1h-1zM279.5 231.0h1v1h-1zM265.7 230.3h1v1h-1zM262.4 233.8h1v1h-1zM259.6 232.4h1v1h-1zM273.3 228.9h1v1h-1zM267.9 237.3h1v1h-1zM261.3 231.9h1v1h-1zM275.0 235.1h1v1h-1zM260.0 235.4h1v1h-1zM270.1 237.2h1v1h-1zM278.6 235.3h1v1h-1zM275.1 231.6h1v1h-1zM282.2 230.6h1v1h-1zM281.7 229.8h1v1h-1zM274.5 236.7h1v1h-1zM269.0 239.7h1v1h-1zM266.2 234.2h1v1h-1zM281.6 233.6h1v1h-1zM278.7 234.3h1v1h-1zM276.4 238.4h1v1h-1zM261.3 238.9h1v1h-1zM263.3 234.5h1v1h-1zM280.3 236.1h1v1h-1zM264.7 232.8h1v1h-1zM280.5 231.6h1v1h-1zM278.8 236.8h1v1h-1zM266.0 233.8h1v1h-1zM280.7 239.2h1v1h-1zM278.0 230.2h1v1h-1zM269.3 231.3h1v1h-1zM264.1 235.7h1v1h-1zM269.8 232.9h1v1h-1zM266.8 237.4h1v1h-1zM265.2 234.3h1v1h-1zM260.0 234.1h1v1h-1zM279.3 238.9h1v1h-1zM260.8 228.9h1v1h-1zM266.7 231.2h1v1h-1zM274.6 232.4h1v1h-1zM274.0 237.8h1v1h-1zM269.3 235.1h1v1h-1zM279.2 231.5h1v1h-1zM275.9 234.3h1v1h-1zM263.6 237.8h1v1h-1zM267.1 228.8h1v1h-1zM275.4 234.3h1v1h-1zM279.4 228.4h1v1h-1zM274.4 235.6h1v1h-1zM278.2 235.5h1v1h-1zM274.7 231.7h1v1h-1zM261.2 235.8h1v1h-1zM276.6 231.7h1v1h-1zM281.9 230.1h1v1h-1zM281.9 233.2h1v1h-1zM269.9 230.3h1v1h-1zM264.2 230.1h1v1h-1zM269.9 237.2h1v1h-1zM279.5 231.6h1v1h-1zM270.0 233.7h1v1h-1zM279.6 232.1h1v1h-1zM268.2 231.1h1v1h-1zM277.1 230.9h1v1h-1zM261.0 233.7h1v1h-1zM274.7 229.9h1v1h-1zM280.0 235.2h1v1h-1zM279.1 233.9h1v1h-1zM260.1 235.0h1v1h-1zM276.1 236.9h1v1h-1zM274.3 234.9h1v1h-1zM278.9 233.7h1v1h-1zM259.1 229.6h1v1h-1zM262.7 237.0h1v1h-1zM261.2 233.4h1v1h-1zM267.9 233.1h1v1h-1zM273.7 238.8h1v1h-1zM266.1 234.0h1v1h-1zM276.2 233.7h1v1h-1zM276.5 232.9h1v1h-1zM270.0 233.3h1v1h-1zM259.7 232.2h1v1h-1zM272.6 233.0h1v1h-1zM265.3 235.6h1v1h-1zM277.6 235.5h1v1h-1zM275.1 232.6h1v1h-1zM260.9 237.8h1v1h-1zM279.8 228.8h1v1h-1zM280.6 236.0h1v1h-1zM261.9 234.4h1v1h-1zM264.4 232.0h1v1h-1zM265.8 236.5h1v1h-1zM263.3 232.8h1v1h-1zM262.4 237.2h1v1h-1zM277.2 233.9h1v1h-1zM273.6 228.4h1v1h-1zM281.7 234.6h1v1h-1zM264.5 235.9h1v1h-1zM280.4 230.0h1v1h-1zM276.8 229.7h1v1h-1zM277.9 235.9h1v1h-1zM281.0 230.4h1v1h-1zM280.1 229.6h1v1h-1zM270.9 237.1h1v1h-1zM267.5 231.8h1v1h-1zM281.5 234.6h1v1h-1zM264.0 235.5h1v1h-1zM277.4 231.8h1v1h-1zM265.0 228.6h1v1h-1zM279.8 230.5h1v1h-1zM274.3 229.3h1v1h-1zM267.0 230.0h1v1h-1zM279.1 230.0h1v1h-1zM273.5 240.5h1v1h-1zM279.2 233.8h1v1h-1zM262.2 232.8h1v1h-1zM265.4 231.6h1v1h-1zM275.8 234.5h1v1h-1zM280.9 231.7h1v1h-1zM269.5 234.0h1v1h-1zM260.3 235.8h1v1h-1zM267.5 235.3h1v1h-1zM271.9 234.7h1v1h-1zM274.4 239.7h1v1h-1zM270.3 233.6h1v1h-1zM264.2 236.8h1v1h-1zM259.8 234.8h1v1h-1zM259.0 231.0h1v1h-1zM264.1 234.2h1v1h-1zM268.3 234.8h1v1h-1zM271.1 237.5h1v1h-1zM274.5 232.3h1v1h-1zM278.9 236.0h1v1h-1zM280.9 231.9h1v1h-1zM265.3 238.8h1v1h-1zM245.9 234.4h1v1h-1zM247.0 232.5h1v1h-1zM254.7 232.8h1v1h-1zM241.5 233.6h1v1h-1zM246.0 233.1h1v1h-1zM247.0 231.5h1v1h-1zM248.2 230.2h1v1h-1zM244.0 229.0h1v1h-1zM242.0 232.2h1v1h-1zM254.3 233.6h1v1h-1zM244.0 231.3h1v1h-1zM243.1 232.0h1v1h-1zM243.7 231.9h1v1h-1zM240.6 233.5h1v1h-1zM255.1 231.4h1v1h-1zM250.4 236.8h1v1h-1zM243.9 232.8h1v1h-1zM252.5 231.8h1v1h-1zM247.5 229.5h1v1h-1zM256.7 230.7h1v1h-1zM245.8 231.7h1v1h-1zM256.4 231.7h1v1h-1zM257.5 230.7h1v1h-1zM244.3 233.1h1v1h-1zM250.7 234.7h1v1h-1zM253.3 230.8h1v1h-1zM249.6 236.0h1v1h-1zM240.9 229.1h1v1h-1zM250.6 228.8h1v1h-1zM253.0 231.0h1v1h-1zM247.4 234.4h1v1h-1zM241.4 233.3h1v1h-1zM247.2 237.3h1v1h-1zM256.5 232.4h1v1h-1zM255.0 230.1h1v1h-1zM246.7 231.9h1v1h-1zM254.7 234.2h1v1h-1zM239.4 233.7h1v1h-1zM256.7 231.5h1v1h-1zM241.3 233.9h1v1h-1zM244.1 230.7h1v1h-1zM253.1 231.6h1v1h-1zM255.8 232.1h1v1h-1zM242.3 232.9h1v1h-1zM240.8 231.0h1v1h-1zM249.6 232.5h1v1h-1zM250.6 234.1h1v1h-1zM247.3 231.8h1v1h-1zM250.9 232.5h1v1h-1zM269.0 239.7h1v1h-1zM263.9 252.3h1v1h-1zM270.6 247.5h1v1h-1zM263.5 253.4h1v1h-1zM274.1 240.7h1v1h-1zM267.8 255.9h1v1h-1zM263.6 251.4h1v1h-1zM271.2 243.7h1v1h-1zM265.5 252.0h1v1h-1zM265.8 252.4h1v1h-1zM266.0 249.7h1v1h-1zM262.8 251.6h1v1h-1zM281.6 238.2h1v1h-1zM267.8 237.1h1v1h-1zM265.1 248.9h1v1h-1zM264.7 254.2h1v1h-1zM273.3 240.9h1v1h-1zM261.5 253.0h1v1h-1zM265.2 237.6h1v1h-1zM272.0 247.0h1v1h-1zM265.9 255.2h1v1h-1zM269.7 236.6h1v1h-1zM267.9 243.6h1v1h-1zM270.6 238.9h1v1h-1zM263.4 257.3h1v1h-1zM265.1 251.2h1v1h-1zM269.9 240.1h1v1h-1zM265.1 250.8h1v1h-1zM268.9 251.8h1v1h-1zM267.1 253.3h1v1h-1zM274.8 236.1h1v1h-1zM268.1 253.6h1v1h-1zM264.9 254.1h1v1h-1zM268.2 254.7h1v1h-1zM268.5 252.2h1v1h-1zM263.8 247.2h1v1h-1zM263.6 252.7h1v1h-1zM263.5 242.6h1v1h-1zM278.4 239.1h1v1h-1zM274.4 239.8h1v1h-1zM272.6 245.4h1v1h-1zM283.7 237.0h1v1h-1zM266.6 241.0h1v1h-1zM265.3 251.9h1v1h-1zM262.0 248.7h1v1h-1zM280.0 240.4h1v1h-1zM268.4 238.1h1v1h-1zM272.9 241.3h1v1h-1zM274.9 236.7h1v1h-1zM268.8 240.5h1v1h-1zM263.3 246.3h1v1h-1zM260.8 253.2h1v1h-1zM261.9 238.7h1v1h-1zM265.1 248.4h1v1h-1zM265.5 253.4h1v1h-1zM276.8 241.6h1v1h-1zM267.9 245.9h1v1h-1zM276.9 240.4h1v1h-1zM266.7 246.3h1v1h-1zM264.0 241.8h1v1h-1zM262.6 245.8h1v1h-1zM262.5 243.3h1v1h-1zM275.1 236.5h1v1h-1zM266.6 252.1h1v1h-1zM268.9 255.2h1v1h-1zM265.6 256.4h1v1h-1zM260.3 249.4h1v1h-1zM265.9 256.0h1v1h-1zM262.0 254.4h1v1h-1zM283.1 237.3h1v1h-1zM270.1 239.2h1v1h-1zM266.8 254.9h1v1h-1zM267.0 253.7h1v1h-1zM266.6 239.8h1v1h-1zM272.1 244.7h1v1h-1zM273.4 237.9h1v1h-1zM265.9 253.1h1v1h-1zM264.0 249.3h1v1h-1zM265.8 252.9h1v1h-1zM266.7 251.7h1v1h-1zM262.6 244.1h1v1h-1zM264.3 244.4h1v1h-1zM268.0 237.3h1v1h-1zM265.7 252.7h1v1h-1zM265.6 255.3h1v1h-1zM265.7 243.2h1v1h-1zM263.2 255.7h1v1h-1zM269.3 239.6h1v1h-1zM272.8 249.1h1v1h-1zM268.1 252.5h1v1h-1zM266.2 256.2h1v1h-1zM275.1 238.0h1v1h-1zM263.8 250.8h1v1h-1zM245.8 252.4h1v1h-1zM254.9 243.5h1v1h-1zM251.9 242.5h1v1h-1zM246.6 243.5h1v1h-1zM246.4 243.2h1v1h-1zM250.6 248.8h1v1h-1zM249.7 240.0h1v1h-1zM255.0 252.2h1v1h-1zM243.4 248.7h1v1h-1zM249.7 256.9h1v1h-1zM244.6 252.0h1v1h-1zM247.0 245.1h1v1h-1zM272.2 271.9h1v1h-1zM273.7 268.6h1v1h-1zM271.8 263.5h1v1h-1zM263.1 264.2h1v1h-1zM263.2 267.4h1v1h-1zM264.9 263.4h1v1h-1zM238.2 265.5h1v1h-1zM248.6 262.3h1v1h-1z" fill="#555" fill-opacity="0.34"/>
<path d="M279.0 233.3h1v1h-1zM237.7 230.7h1v1h-1zM272.8 231.9h1v1h-1zM270.8 233.7h1v1h-1zM241.2 232.1h1v1h-1zM241.8 234.2h1v1h-1zM274.0 231.5h1v1h-1zM245.5 233.8h1v1h-1zM256.0 230.6h1v1h-1zM263.7 237.1h1v1h-1zM271.9 232.3h1v1h-1zM271.5 231.8h1v1h-1zM258.6 231.4h1v1h-1zM265.6 233.5h1v1h-1zM254.2 232.4h1v1h-1zM275.6 233.2h1v1h-1zM276.2 229.0h1v1h-1zM253.6 229.8h1v1h-1zM236.8 230.5h1v1h-1zM279.2 230.7h1v1h-1zM277.6 230.8h1v1h-1zM271.2 232.2h1v1h-1zM276.4 239.1h1v1h-1zM248.5 233.0h1v1h-1zM275.7 230.4h1v1h-1zM269.3 232.2h1v1h-1zM252.5 229.0h1v1h-1zM262.8 239.5h1v1h-1zM281.4 231.4h1v1h-1zM238.7 231.0h1v1h-1zM242.5 230.3h1v1h-1zM264.1 235.5h1v1h-1zM273.3 232.9h1v1h-1zM267.7 231.5h1v1h-1zM275.4 235.0h1v1h-1zM249.2 228.8h1v1h-1zM248.8 229.3h1v1h-1zM244.1 232.8h1v1h-1zM272.9 237.2h1v1h-1zM241.5 232.7h1v1h-1zM253.2 232.4h1v1h-1zM250.6 230.4h1v1h-1zM267.4 239.3h1v1h-1zM263.7 228.8h1v1h-1zM270.1 227.9h1v1h-1zM273.1 228.1h1v1h-1zM240.2 229.2h1v1h-1zM281.0 229.6h1v1h-1zM259.4 228.9h1v1h-1zM252.6 228.6h1v1h-1zM260.7 229.8h1v1h-1zM264.1 231.0h1v1h-1zM258.2 232.0h1v1h-1zM240.1 234.1h1v1h-1zM250.7 233.4h1v1h-1zM275.7 232.6h1v1h-1zM243.1 230.9h1v1h-1zM281.3 228.6h1v1h-1zM280.6 234.2h1v1h-1zM276.0 232.9h1v1h-1zM282.7 229.3h1v1h-1zM264.4 235.3h1v1h-1zM262.7 230.5h1v1h-1zM240.5 228.8h1v1h-1zM241.7 228.6h1v1h-1zM258.3 231.3h1v1h-1zM280.5 231.6h1v1h-1zM279.8 228.1h1v1h-1zM262.6 234.7h1v1h-1zM239.7 230.1h1v1h-1zM280.2 236.9h1v1h-1zM256.8 229.0h1v1h-1zM263.5 231.5h1v1h-1zM267.9 232.0h1v1h-1zM270.0 235.4h1v1h-1zM261.7 240.0h1v1h-1zM242.5 229.8h1v1h-1zM249.7 231.6h1v1h-1zM257.2 233.8h1v1h-1zM272.8 231.8h1v1h-1zM252.7 230.5h1v1h-1zM238.6 235.7h1v1h-1zM275.4 230.5h1v1h-1zM264.7 230.9h1v1h-1zM277.7 236.3h1v1h-1zM248.6 229.4h1v1h-1zM262.1 232.7h1v1h-1zM267.9 235.0h1v1h-1zM236.9 231.1h1v1h-1zM267.0 234.4h1v1h-1zM269.5 231.0h1v1h-1zM279.6 235.5h1v1h-1zM271.7 236.6h1v1h-1zM275.8 231.8h1v1h-1zM268.9 231.9h1v1h-1zM278.8 238.6h1v1h-1zM265.4 234.2h1v1h-1zM264.4 231.6h1v1h-1zM279.9 232.8h1v1h-1zM237.5 229.5h1v1h-1zM245.4 230.6h1v1h-1zM243.5 231.3h1v1h-1zM255.3 230.9h1v1h-1zM242.9 230.0h1v1h-1zM274.7 232.0h1v1h-1zM260.6 228.9h1v1h-1zM279.1 230.5h1v1h-1zM274.0 231.1h1v1h-1zM270.8 231.5h1v1h-1zM253.2 229.5h1v1h-1zM267.3 232.5h1v1h-1zM267.2 231.0h1v1h-1zM266.5 230.7h1v1h-1zM259.6 230.8h1v1h-1zM264.9 231.9h1v1h-1zM267.6 236.5h1v1h-1zM272.1 230.2h1v1h-1zM239.3 229.2h1v1h-1zM269.1 236.0h1v1h-1zM242.9 235.1h1v1h-1zM269.2 229.4h1v1h-1zM241.6 230.3h1v1h-1zM268.6 234.2h1v1h-1zM279.5 234.0h1v1h-1zM279.2 230.1h1v1h-1zM249.7 231.3h1v1h-1zM268.9 238.3h1v1h-1zM263.6 239.9h1v1h-1zM266.0 238.3h1v1h-1zM253.9 232.7h1v1h-1zM273.5 236.9h1v1h-1zM279.9 237.0h1v1h-1zM260.5 229.9h1v1h-1zM258.8 234.0h1v1h-1zM280.1 231.8h1v1h-1zM274.6 233.9h1v1h-1zM268.3 231.4h1v1h-1zM257.6 235.9h1v1h-1zM277.6 230.6h1v1h-1zM255.3 231.0h1v1h-1zM258.3 232.0h1v1h-1zM282.3 233.0h1v1h-1zM251.6 228.6h1v1h-1zM261.5 229.0h1v1h-1zM256.0 230.7h1v1h-1zM244.6 234.6h1v1h-1zM267.8 234.2h1v1h-1zM240.2 234.7h1v1h-1zM260.6 231.6h1v1h-1zM258.5 236.2h1v1h-1zM261.3 234.1h1v1h-1zM246.1 228.8h1v1h-1zM263.5 232.9h1v1h-1zM267.5 234.3h1v1h-1zM260.2 228.6h1v1h-1zM245.0 232.3h1v1h-1zM251.6 232.5h1v1h-1zM251.5 231.6h1v1h-1zM271.5 233.4h1v1h-1zM272.0 231.1h1v1h-1zM279.0 231.5h1v1h-1zM254.1 232.0h1v1h-1zM270.0 232.0h1v1h-1zM279.7 230.6h1v1h-1zM275.8 231.3h1v1h-1zM281.6 228.0h1v1h-1zM241.8 234.3h1v1h-1zM270.0 229.8h1v1h-1zM283.3 230.6h1v1h-1zM252.1 237.0h1v1h-1zM282.6 230.6h1v1h-1zM264.6 235.0h1v1h-1zM255.8 236.1h1v1h-1zM254.4 230.3h1v1h-1zM269.6 229.0h1v1h-1zM250.7 232.7h1v1h-1zM274.9 229.8h1v1h-1zM245.3 230.3h1v1h-1zM239.9 229.9h1v1h-1zM260.8 233.5h1v1h-1zM260.1 233.8h1v1h-1zM266.9 234.5h1v1h-1zM269.0 228.7h1v1h-1zM257.8 230.3h1v1h-1zM272.9 233.1h1v1h-1zM242.7 231.7h1v1h-1zM250.9 232.6h1v1h-1zM267.1 236.9h1v1h-1zM277.1 228.7h1v1h-1zM277.2 229.8h1v1h-1zM269.2 230.4h1v1h-1zM261.7 231.2h1v1h-1zM264.6 232.8h1v1h-1zM267.4 229.8h1v1h-1zM253.2 233.8h1v1h-1zM269.5 236.9h1v1h-1zM283.3 232.5h1v1h-1zM268.9 231.6h1v1h-1zM264.5 235.6h1v1h-1zM273.3 232.1h1v1h-1zM266.4 230.0h1v1h-1zM277.6 230.3h1v1h-1zM264.3 232.6h1v1h-1zM265.4 232.3h1v1h-1zM266.8 229.4h1v1h-1zM277.2 230.4h1v1h-1zM274.5 232.6h1v1h-1zM276.5 237.5h1v1h-1zM272.3 232.7h1v1h-1zM266.7 230.4h1v1h-1zM272.9 233.2h1v1h-1zM255.9 227.8h1v1h-1zM279.0 235.6h1v1h-1zM282.5 234.3h1v1h-1zM252.7 227.9h1v1h-1zM244.3 229.3h1v1h-1zM264.7 230.7h1v1h-1zM281.2 230.8h1v1h-1zM271.7 230.7h1v1h-1zM247.5 234.6h1v1h-1zM262.3 237.1h1v1h-1zM270.5 233.1h1v1h-1zM268.5 229.6h1v1h-1zM251.3 230.4h1v1h-1zM249.5 228.9h1v1h-1zM242.0 233.4h1v1h-1zM275.4 231.5h1v1h-1zM277.7 237.3h1v1h-1zM246.7 231.4h1v1h-1zM278.1 230.4h1v1h-1zM277.3 228.2h1v1h-1zM267.4 232.8h1v1h-1zM268.3 231.8h1v1h-1zM274.4 235.9h1v1h-1zM256.9 233.4h1v1h-1zM260.0 227.3h1v1h-1zM262.9 229.8h1v1h-1zM275.8 231.1h1v1h-1zM251.1 229.3h1v1h-1zM268.2 227.9h1v1h-1zM263.0 231.6h1v1h-1zM243.6 231.4h1v1h-1zM255.0 228.4h1v1h-1zM272.4 232.2h1v1h-1zM257.1 234.1h1v1h-1zM245.1 229.3h1v1h-1zM270.5 229.2h1v1h-1zM251.6 231.7h1v1h-1zM282.4 231.3h1v1h-1zM273.5 229.2h1v1h-1zM275.1 232.5h1v1h-1zM259.5 230.2h1v1h-1zM260.0 235.5h1v1h-1zM236.6 228.0h1v1h-1zM249.6 229.7h1v1h-1zM245.8 232.7h1v1h-1zM240.4 229.2h1v1h-1zM247.9 231.6h1v1h-1zM270.3 237.0h1v1h-1zM271.6 230.1h1v1h-1zM252.2 234.5h1v1h-1zM259.9 236.1h1v1h-1zM244.5 233.2h1v1h-1zM261.4 235.5h1v1h-1zM245.8 229.0h1v1h-1zM242.7 232.0h1v1h-1zM272.7 232.2h1v1h-1zM271.5 230.2h1v1h-1zM239.8 232.1h1v1h-1zM269.9 238.2h1v1h-1zM281.9 229.4h1v1h-1zM241.2 233.0h1v1h-1zM268.8 233.6h1v1h-1zM266.5 234.9h1v1h-1zM281.6 228.5h1v1h-1zM250.1 233.6h1v1h-1zM274.7 228.5h1v1h-1zM244.4 228.3h1v1h-1zM239.3 231.4h1v1h-1zM256.0 231.7h1v1h-1zM255.6 230.9h1v1h-1zM272.0 233.9h1v1h-1zM255.3 233.1h1v1h-1zM274.2 230.4h1v1h-1zM249.9 236.9h1v1h-1zM276.4 232.8h1v1h-1zM273.1 229.2h1v1h-1zM272.2 231.2h1v1h-1zM270.3 231.5h1v1h-1zM237.5 232.7h1v1h-1zM276.9 233.3h1v1h-1zM263.2 234.9h1v1h-1zM272.5 231.5h1v1h-1zM250.1 229.8h1v1h-1zM269.7 229.6h1v1h-1zM271.1 231.7h1v1h-1zM260.2 228.6h1v1h-1zM251.1 231.7h1v1h-1zM262.3 231.8h1v1h-1zM263.3 229.9h1v1h-1zM257.8 230.8h1v1h-1zM268.3 229.4h1v1h-1zM246.2 236.0h1v1h-1zM263.3 232.5h1v1h-1zM257.3 229.8h1v1h-1zM257.6 230.3h1v1h-1zM269.0 238.4h1v1h-1zM244.4 230.0h1v1h-1zM249.2 231.8h1v1h-1zM267.3 229.8h1v1h-1zM261.6 229.2h1v1h-1zM257.4 231.1h1v1h-1zM258.4 232.3h1v1h-1zM266.3 229.6h1v1h-1zM242.6 229.8h1v1h-1zM259.6 233.1h1v1h-1zM275.7 230.3h1v1h-1zM282.3 238.9h1v1h-1zM271.4 229.2h1v1h-1zM262.9 236.1h1v1h-1zM250.1 229.9h1v1h-1zM271.5 231.9h1v1h-1zM261.9 232.5h1v1h-1zM259.7 231.1h1v1h-1zM279.7 231.6h1v1h-1zM269.5 228.8h1v1h-1zM273.7 235.6h1v1h-1zM247.8 237.4h1v1h-1zM239.5 229.8h1v1h-1zM246.1 231.9h1v1h-1zM278.0 229.3h1v1h-1zM257.0 232.7h1v1h-1zM238.9 231.1h1v1h-1zM275.2 230.1h1v1h-1zM276.1 232.1h1v1h-1zM261.1 236.8h1v1h-1zM267.5 238.4h1v1h-1zM272.5 236.2h1v1h-1zM263.0 231.4h1v1h-1zM281.8 235.9h1v1h-1zM277.5 231.9h1v1h-1zM256.6 229.7h1v1h-1zM253.2 232.2h1v1h-1zM276.2 231.7h1v1h-1zM258.1 228.6h1v1h-1zM260.7 229.2h1v1h-1zM253.5 230.0h1v1h-1zM248.7 228.9h1v1h-1zM272.1 237.6h1v1h-1zM260.6 235.8h1v1h-1zM275.9 233.2h1v1h-1zM238.9 230.2h1v1h-1zM275.7 231.9h1v1h-1zM278.2 230.0h1v1h-1zM261.9 234.9h1v1h-1zM268.0 230.8h1v1h-1zM251.8 229.1h1v1h-1zM269.8 230.3h1v1h-1zM274.0 228.8h1v1h-1zM250.7 228.9h1v1h-1zM280.1 233.6h1v1h-1zM242.3 231.8h1v1h-1zM240.2 231.0h1v1h-1zM237.4 232.0h1v1h-1zM247.6 233.8h1v1h-1zM271.9 230.7h1v1h-1zM278.4 235.4h1v1h-1zM253.4 235.2h1v1h-1zM237.5 237.2h1v1h-1zM281.6 233.2h1v1h-1zM270.7 228.9h1v1h-1zM269.0 234.5h1v1h-1zM247.5 229.3h1v1h-1zM251.4 230.3h1v1h-1zM283.5 231.0h1v1h-1zM272.6 230.1h1v1h-1zM278.8 229.9h1v1h-1zM279.8 229.6h1v1h-1zM283.6 234.7h1v1h-1zM261.7 234.2h1v1h-1zM250.4 229.6h1v1h-1zM266.7 230.8h1v1h-1zM246.9 231.1h1v1h-1zM277.7 228.9h1v1h-1zM277.5 231.2h1v1h-1zM238.0 231.4h1v1h-1zM275.1 231.3h1v1h-1zM280.1 230.0h1v1h-1zM280.1 233.7h1v1h-1zM267.9 237.7h1v1h-1zM251.9 233.8h1v1h-1zM257.1 232.6h1v1h-1zM256.9 231.4h1v1h-1zM263.8 229.6h1v1h-1zM260.6 230.4h1v1h-1zM263.6 232.4h1v1h-1zM265.2 233.8h1v1h-1zM271.8 233.4h1v1h-1zM277.5 236.8h1v1h-1zM275.8 233.9h1v1h-1zM270.9 232.2h1v1h-1zM268.7 237.3h1v1h-1zM262.6 235.4h1v1h-1zM278.6 232.2h1v1h-1zM281.7 236.0h1v1h-1zM269.0 234.0h1v1h-1zM276.4 240.5h1v1h-1zM264.4 240.2h1v1h-1zM280.4 235.1h1v1h-1zM265.7 229.6h1v1h-1zM276.3 230.9h1v1h-1zM269.2 235.3h1v1h-1zM279.2 230.8h1v1h-1zM269.2 234.1h1v1h-1zM279.6 232.1h1v1h-1zM263.5 231.6h1v1h-1zM276.4 237.2h1v1h-1zM272.8 230.2h1v1h-1zM283.0 238.7h1v1h-1zM277.6 232.5h1v1h-1zM272.3 234.0h1v1h-1zM282.9 233.7h1v1h-1zM267.2 231.5h1v1h-1zM280.4 238.8h1v1h-1zM281.8 235.6h1v1h-1zM267.9 237.1h1v1h-1zM272.0 238.1h1v1h-1zM264.4 236.4h1v1h-1zM274.1 230.8h1v1h-1zM273.6 235.1h1v1h-1zM264.9 232.7h1v1h-1zM264.3 231.7h1v1h-1zM270.5 235.1h1v1h-1zM269.7 233.6h1v1h-1zM271.2 236.5h1v1h-1zM262.3 229.9h1v1h-1zM270.4 233.4h1v1h-1zM270.8 235.4h1v1h-1zM265.3 236.6h1v1h-1zM269.6 234.0h1v1h-1zM259.9 236.7h1v1h-1zM272.8 234.3h1v1h-1zM277.8 236.7h1v1h-1zM259.1 229.2h1v1h-1zM267.4 233.5h1v1h-1zM278.8 241.9h1v1h-1zM262.6 233.3h1v1h-1zM271.7 234.7h1v1h-1zM267.5 236.1h1v1h-1zM268.4 236.6h1v1h-1zM279.8 233.7h1v1h-1zM274.1 236.5h1v1h-1zM264.2 235.4h1v1h-1zM276.3 236.6h1v1h-1zM278.6 233.6h1v1h-1zM265.5 234.5h1v1h-1zM260.9 231.8h1v1h-1zM278.3 237.2h1v1h-1zM278.6 229.9h1v1h-1zM280.0 234.8h1v1h-1zM262.4 231.8h1v1h-1zM276.6 229.0h1v1h-1zM261.9 234.9h1v1h-1zM280.2 237.2h1v1h-1zM265.2 236.2h1v1h-1zM260.0 235.2h1v1h-1zM274.0 233.3h1v1h-1zM270.1 237.9h1v1h-1zM265.8 230.8h1v1h-1zM262.2 230.4h1v1h-1zM260.1 237.5h1v1h-1zM259.7 230.7h1v1h-1zM270.3 236.1h1v1h-1zM260.7 231.8h1v1h-1zM269.3 232.5h1v1h-1zM273.4 237.6h1v1h-1zM280.8 235.4h1v1h-1zM265.3 233.9h1v1h-1zM263.3 233.5h1v1h-1zM268.2 233.8h1v1h-1zM276.0 234.6h1v1h-1zM273.5 235.1h1v1h-1zM269.3 231.3h1v1h-1zM261.9 231.8h1v1h-1zM267.0 234.0h1v1h-1zM269.2 230.0h1v1h-1zM274.2 234.3h1v1h-1zM278.9 234.3h1v1h-1zM278.5 234.2h1v1h-1zM280.9 238.6h1v1h-1zM269.9 235.4h1v1h-1zM269.1 236.4h1v1h-1zM261.4 231.2h1v1h-1zM271.5 235.1h1v1h-1zM262.1 236.6h1v1h-1zM273.5 231.1h1v1h-1zM281.3 234.2h1v1h-1zM270.0 238.9h1v1h-1zM266.3 233.6h1v1h-1zM263.4 232.2h1v1h-1zM268.2 232.7h1v1h-1zM259.2 232.5h1v1h-1zM260.7 230.6h1v1h-1zM269.1 233.3h1v1h-1zM274.6 236.3h1v1h-1zM264.0 235.3h1v1h-1zM266.0 235.9h1v1h-1zM283.2 232.2h1v1h-1zM259.7 231.6h1v1h-1zM259.4 234.5h1v1h-1zM262.1 231.5h1v1h-1zM265.2 230.5h1v1h-1zM270.3 233.6h1v1h-1zM274.2 231.0h1v1h-1zM263.4 233.7h1v1h-1zM263.0 230.3h1v1h-1zM279.1 232.1h1v1h-1zM261.4 230.1h1v1h-1zM280.6 236.6h1v1h-1zM279.3 229.3h1v1h-1zM277.1 232.5h1v1h-1zM267.3 235.6h1v1h-1zM282.6 229.9h1v1h-1zM262.7 236.1h1v1h-1zM267.5 236.6h1v1h-1zM274.3 234.6h1v1h-1zM268.2 236.9h1v1h-1zM268.2 232.4h1v1h-1zM263.2 235.1h1v1h-1zM264.9 231.8h1v1h-1zM266.9 232.2h1v1h-1zM262.0 232.4h1v1h-1zM265.9 237.2h1v1h-1zM279.2 239.0h1v1h-1zM250.2 229.2h1v1h-1zM257.3 230.4h1v1h-1zM240.6 232.9h1v1h-1zM244.3 233.7h1v1h-1zM241.5 233.6h1v1h-1zM241.1 230.3h1v1h-1zM254.5 229.9h1v1h-1zM251.5 232.9h1v1h-1zM254.3 230.3h1v1h-1zM250.2 235.7h1v1h-1zM241.1 230.7h1v1h-1zM247.1 233.2h1v1h-1zM238.9 228.5h1v1h-1zM243.9 229.8h1v1h-1zM256.6 236.4h1v1h-1zM241.7 236.2h1v1h-1zM238.4 233.1h1v1h-1zM255.4 234.4h1v1h-1zM239.2 230.7h1v1h-1zM238.3 233.5h1v1h-1zM238.9 231.6h1v1h-1zM242.5 232.9h1v1h-1zM238.6 234.5h1v1h-1zM243.7 232.0h1v1h-1zM251.3 231.1h1v1h-1zM238.0 237.1h1v1h-1zM255.2 232.8h1v1h-1zM246.8 235.8h1v1h-1zM245.2 233.7h1v1h-1zM257.6 229.8h1v1h-1zM239.0 231.8h1v1h-1zM246.2 229.3h1v1h-1zM242.3 231.2h1v1h-1zM243.6 231.6h1v1h-1zM255.2 233.8h1v1h-1zM244.3 232.9h1v1h-1zM245.8 232.8h1v1h-1zM239.7 231.2h1v1h-1zM256.2 231.2h1v1h-1zM243.5 234.7h1v1h-1zM251.7 230.9h1v1h-1zM250.3 232.0h1v1h-1zM244.8 232.9h1v1h-1zM251.9 230.0h1v1h-1zM247.5 230.4h1v1h-1zM247.2 231.4h1v1h-1zM243.7 231.4h1v1h-1zM239.0 233.2h1v1h-1zM252.8 233.0h1v1h-1zM260.3 253.7h1v1h-1zM262.5 244.5h1v1h-1zM276.3 240.0h1v1h-1zM263.3 249.9h1v1h-1zM264.7 257.8h1v1h-1zM263.8 251.5h1v1h-1zM263.6 257.4h1v1h-1zM266.3 255.3h1v1h-1zM267.5 241.7h1v1h-1zM268.1 249.9h1v1h-1zM267.5 237.3h1v1h-1zM262.0 247.5h1v1h-1zM270.4 249.2h1v1h-1zM260.2 241.9h1v1h-1zM268.2 250.6h1v1h-1zM273.3 237.3h1v1h-1zM266.5 245.6h1v1h-1zM260.1 239.4h1v1h-1zM266.5 254.9h1v1h-1zM264.6 249.6h1v1h-1zM270.4 246.5h1v1h-1zM266.6 256.7h1v1h-1zM264.7 256.1h1v1h-1zM273.2 238.7h1v1h-1zM268.7 237.6h1v1h-1zM266.1 238.6h1v1h-1zM266.6 247.1h1v1h-1zM276.5 236.5h1v1h-1zM267.7 257.9h1v1h-1zM270.0 250.5h1v1h-1zM263.3 243.6h1v1h-1zM264.0 255.4h1v1h-1zM265.4 245.3h1v1h-1zM264.3 245.0h1v1h-1zM278.0 239.1h1v1h-1zM264.6 236.9h1v1h-1zM265.9 244.1h1v1h-1zM262.4 238.1h1v1h-1zM263.8 248.5h1v1h-1zM263.5 238.2h1v1h-1zM260.0 249.0h1v1h-1zM276.3 239.9h1v1h-1zM263.5 253.2h1v1h-1zM270.1 239.0h1v1h-1zM264.4 254.9h1v1h-1zM265.6 255.0h1v1h-1zM275.0 244.9h1v1h-1zM264.7 248.5h1v1h-1zM267.1 254.9h1v1h-1zM267.8 245.0h1v1h-1zM268.1 248.5h1v1h-1zM262.8 255.1h1v1h-1zM269.6 244.3h1v1h-1zM264.7 249.3h1v1h-1zM265.3 249.8h1v1h-1zM260.8 239.7h1v1h-1zM261.8 248.0h1v1h-1zM279.3 240.5h1v1h-1zM259.8 236.6h1v1h-1zM278.4 236.4h1v1h-1zM268.0 251.1h1v1h-1zM270.0 249.2h1v1h-1zM271.1 247.7h1v1h-1zM276.4 237.1h1v1h-1zM265.0 246.9h1v1h-1zM264.9 247.1h1v1h-1zM265.0 255.6h1v1h-1zM262.1 254.6h1v1h-1zM262.9 244.8h1v1h-1zM263.4 253.1h1v1h-1zM271.1 238.2h1v1h-1zM270.0 243.1h1v1h-1zM273.9 241.6h1v1h-1zM265.6 251.4h1v1h-1zM279.8 240.3h1v1h-1zM261.4 241.3h1v1h-1zM260.7 236.0h1v1h-1zM261.5 245.0h1v1h-1zM267.2 242.5h1v1h-1zM260.7 245.5h1v1h-1zM261.8 241.3h1v1h-1zM265.5 255.1h1v1h-1zM261.6 238.7h1v1h-1zM261.1 254.9h1v1h-1zM264.9 253.4h1v1h-1zM263.7 245.3h1v1h-1zM280.8 242.5h1v1h-1zM270.0 252.9h1v1h-1zM260.8 236.3h1v1h-1zM261.2 238.4h1v1h-1zM271.7 237.8h1v1h-1zM262.7 237.8h1v1h-1zM270.2 246.9h1v1h-1zM250.8 246.8h1v1h-1zM256.7 255.8h1v1h-1zM248.7 241.5h1v1h-1zM246.2 244.1h1v1h-1zM241.1 242.3h1v1h-1zM245.4 243.8h1v1h-1zM250.2 246.5h1v1h-1zM245.7 245.5h1v1h-1zM247.4 256.9h1v1h-1zM243.0 254.2h1v1h-1zM254.8 249.7h1v1h-1zM254.9 245.6h1v1h-1zM262.2 264.0h1v1h-1zM264.4 265.5h1v1h-1zM259.8 268.9h1v1h-1zM266.7 262.5h1v1h-1zM273.7 262.9h1v1h-1zM266.1 265.3h1v1h-1zM248.5 263.1h1v1h-1z" fill="#555" fill-opacity="0.34"/>
<rect x="267.4" y="225.6" width="20.3" height="17.8" fill="none" stroke="#000" stroke-width="1.6"/>
<line x1="234.0" y1="226" x2="235.6" y2="226" stroke="#000" stroke-width="0.8"/>
<line x1="234.0" y1="229" x2="235.6" y2="229" stroke="#000" stroke-width="0.8"/>
<line x1="234.0" y1="232" x2="235.6" y2="232" stroke="#000" stroke-width="0.8"/>
<line x1="234.0" y1="236" x2="235.6" y2="236" stroke="#000" stroke-width="0.8"/>
<line x1="234.0" y1="240" x2="235.6" y2="240" stroke="#000" stroke-width="0.8"/>
<line x1="234.0" y1="244" x2="235.6" y2="244" stroke="#000" stroke-width="0.8"/>
<line x1="234.0" y1="249" x2="235.6" y2="249" stroke="#000" stroke-width="0.8"/>
<line x1="234.0" y1="254" x2="235.6" y2="254" stroke="#000" stroke-width="0.8"/>
<line x1="234.0" y1="258" x2="235.6" y2="258" stroke="#000" stroke-width="0.8"/>
<line x1="234.0" y1="264" x2="235.6" y2="264" stroke="#000" stroke-width="0.8"/>
<line x1="234.0" y1="268" x2="235.6" y2="268" stroke="#000" stroke-width="0.8"/>
<line x1="234.0" y1="272" x2="235.6" y2="272" stroke="#000" stroke-width="0.8"/>
<line x1="234.0" y1="276" x2="235.6" y2="276" stroke="#000" stroke-width="0.8"/>
<line x1="240" y1="280.2" x2="240" y2="281.6" stroke="#000" stroke-width="0.8"/>
<line x1="244" y1="280.2" x2="244" y2="281.6" stroke="#000" stroke-width="0.8"/>
<line x1="248" y1="280.2" x2="248" y2="281.6" stroke="#000" stroke-width="0.8"/>
<line x1="252" y1="280.2" x2="252" y2="281.6" stroke="#000" stroke-width="0.8"/>
<line x1="258" y1="280.2" x2="258" y2="281.6" stroke="#000" stroke-width="0.8"/>
<line x1="262" y1="280.2" x2="262" y2="281.6" stroke="#000" stroke-width="0.8"/>
<line x1="266" y1="280.2" x2="266" y2="281.6" stroke="#000" stroke-width="0.8"/>
<line x1="270" y1="280.2" x2="270" y2="281.6" stroke="#000" stroke-width="0.8"/>
<line x1="276" y1="280.2" x2="276" y2="281.6" stroke="#000" stroke-width="0.8"/>
<line x1="280" y1="280.2" x2="280" y2="281.6" stroke="#000" stroke-width="0.8"/>
<line x1="284" y1="280.2" x2="284" y2="281.6" stroke="#000" stroke-width="0.8"/>
<line x1="288" y1="280.2" x2="288" y2="281.6" stroke="#000" stroke-width="0.8"/>
<line x1="294" y1="280.2" x2="294" y2="281.6" stroke="#000" stroke-width="0.8"/>
<line x1="298" y1="280.2" x2="298" y2="281.6" stroke="#000" stroke-width="0.8"/>
<line x1="302" y1="280.2" x2="302" y2="281.6" stroke="#000" stroke-width="0.8"/>
<line x1="306" y1="280.2" x2="306" y2="281.6" stroke="#000" stroke-width="0.8"/>
<text x="233.7" y="290.6" font-size="7.4" text-anchor="middle" font-weight="normal" >10</text>
<text x="240.0" y="286.6" font-size="6.0" text-anchor="middle" font-weight="normal" >0</text>
<text x="251.89999999999998" y="290.6" font-size="7.4" text-anchor="middle" font-weight="normal" >10</text>
<text x="258.2" y="286.6" font-size="6.0" text-anchor="middle" font-weight="normal" >1</text>
<text x="270.09999999999997" y="290.6" font-size="7.4" text-anchor="middle" font-weight="normal" >10</text>
<text x="276.4" y="286.6" font-size="6.0" text-anchor="middle" font-weight="normal" >2</text>
<text x="288.3" y="290.6" font-size="7.4" text-anchor="middle" font-weight="normal" >10</text>
<text x="294.6" y="286.6" font-size="6.0" text-anchor="middle" font-weight="normal" >3</text>
<text x="306.5" y="290.6" font-size="7.4" text-anchor="middle" font-weight="normal" >10</text>
<text x="312.8" y="286.6" font-size="6.0" text-anchor="middle" font-weight="normal" >4</text>
<g transform="translate(229.9,281.0) rotate(-90)"><text x="-1.3" y="0" font-size="7.4" text-anchor="middle" font-weight="normal">10</text><text x="5.0" y="-4.0" font-size="6.0" text-anchor="middle" font-weight="normal">0</text></g>
<g transform="translate(229.9,224.6) rotate(-90)"><text x="-1.3" y="0" font-size="7.4" text-anchor="middle" font-weight="normal">10</text><text x="5.0" y="-4.0" font-size="6.0" text-anchor="middle" font-weight="normal">4</text></g>
<path d="M296.4 228.8 L318.4 228.8 L318.4 222.6 L325.9 234.6 L318.4 247.2 L318.4 241 L296.4 241 L300.9 234.9 Z" fill="#fff" stroke="#000" stroke-width="2.1" stroke-linejoin="miter"/>
<line x1="365.0" y1="213.8" x2="452.5" y2="213.8" stroke="#3a3a3a" stroke-width="1.3"/>
<line x1="452.5" y1="213.2" x2="452.5" y2="333.0" stroke="#888" stroke-width="1.8"/>
<line x1="360.5" y1="332.5" x2="365.0" y2="332.5" stroke="#000" stroke-width="1.3"/>
<text x="356.3" y="335.6" font-size="8.6" text-anchor="end" font-weight="bold" >0</text>
<line x1="360.5" y1="308.76" x2="365.0" y2="308.76" stroke="#000" stroke-width="1.3"/>
<text x="356.3" y="311.86" font-size="8.6" text-anchor="end" font-weight="bold" >20</text>
<line x1="360.5" y1="285.02" x2="365.0" y2="285.02" stroke="#000" stroke-width="1.3"/>
<text x="356.3" y="288.12" font-size="8.6" text-anchor="end" font-weight="bold" >40</text>
<line x1="360.5" y1="261.28000000000003" x2="365.0" y2="261.28000000000003" stroke="#000" stroke-width="1.3"/>
<text x="356.3" y="264.38000000000005" font-size="8.6" text-anchor="end" font-weight="bold" >60</text>
<line x1="360.5" y1="237.54000000000002" x2="365.0" y2="237.54000000000002" stroke="#000" stroke-width="1.3"/>
<text x="356.3" y="240.64000000000001" font-size="8.6" text-anchor="end" font-weight="bold" >80</text>
<line x1="360.5" y1="213.8" x2="365.0" y2="213.8" stroke="#000" stroke-width="1.3"/>
<text x="356.3" y="216.9" font-size="8.6" text-anchor="end" font-weight="bold" >100</text>
<line x1="372.35" y1="322.5" x2="372.35" y2="310.40000000000003" stroke="#000" stroke-width="1.9"/>
<line x1="369.55" y1="311.35" x2="375.15000000000003" y2="311.35" stroke="#000" stroke-width="2.0"/>
<rect x="367.5" y="322.5" width="9.699999999999989" height="10.0" fill="#ffffff" stroke="#000" stroke-width="1.0"/>
<line x1="382.1" y1="319.5" x2="382.1" y2="307.1" stroke="#000" stroke-width="1.9"/>
<line x1="379.3" y1="308.05" x2="384.90000000000003" y2="308.05" stroke="#000" stroke-width="2.0"/>
<rect x="377.2" y="319.5" width="9.800000000000011" height="13.0" fill="#e4e4e4" stroke="#000" stroke-width="1.0"/>
<line x1="391.7" y1="311.3" x2="391.7" y2="297.1" stroke="#000" stroke-width="1.9"/>
<line x1="388.9" y1="298.05" x2="394.5" y2="298.05" stroke="#000" stroke-width="2.0"/>
<rect x="387.0" y="311.3" width="9.399999999999977" height="21.19999999999999" fill="#8a8a8a" stroke="#000" stroke-width="1.0"/>
<line x1="401.7" y1="255.0" x2="401.7" y2="238.6" stroke="#000" stroke-width="1.9"/>
<line x1="398.9" y1="239.54999999999998" x2="404.5" y2="239.54999999999998" stroke="#000" stroke-width="2.0"/>
<rect x="396.4" y="255.0" width="10.600000000000023" height="77.5" fill="#000000" stroke="#000" stroke-width="1.0"/>
<line x1="414.7" y1="319.5" x2="414.7" y2="307.90000000000003" stroke="#000" stroke-width="1.9"/>
<line x1="411.9" y1="308.85" x2="417.5" y2="308.85" stroke="#000" stroke-width="2.0"/>
<rect x="410.0" y="319.5" width="9.399999999999977" height="13.0" fill="#ffffff" stroke="#000" stroke-width="1.0"/>
<line x1="424.4" y1="312.5" x2="424.4" y2="300.40000000000003" stroke="#000" stroke-width="1.9"/>
<line x1="421.59999999999997" y1="301.35" x2="427.2" y2="301.35" stroke="#000" stroke-width="2.0"/>
<rect x="419.4" y="312.5" width="10.0" height="20.0" fill="#e4e4e4" stroke="#000" stroke-width="1.0"/>
<line x1="434.29999999999995" y1="307.5" x2="434.29999999999995" y2="294.1" stroke="#000" stroke-width="1.9"/>
<line x1="431.49999999999994" y1="295.05" x2="437.09999999999997" y2="295.05" stroke="#000" stroke-width="2.0"/>
<rect x="429.4" y="307.5" width="9.800000000000011" height="25.0" fill="#8a8a8a" stroke="#000" stroke-width="1.0"/>
<line x1="444.4" y1="241.3" x2="444.4" y2="224.6" stroke="#000" stroke-width="1.9"/>
<line x1="441.59999999999997" y1="225.54999999999998" x2="447.2" y2="225.54999999999998" stroke="#000" stroke-width="2.0"/>
<rect x="439.2" y="241.3" width="10.400000000000034" height="91.19999999999999" fill="#000000" stroke="#000" stroke-width="1.0"/>
<line x1="365.0" y1="213.2" x2="365.0" y2="333.2" stroke="#000" stroke-width="1.5"/>
<line x1="364.5" y1="332.5" x2="452.5" y2="332.5" stroke="#000" stroke-width="1.3"/>
<text x="372.6" y="344.5" font-size="7.4" text-anchor="middle" font-weight="bold" >-</text>
<path d="M382.9 342.2 L402.6 337.8 L402.6 342.2 Z" fill="#fff" stroke="#000" stroke-width="1.7" stroke-linejoin="miter"/>
<text x="394.0" y="352.2" font-size="7.0" text-anchor="middle" font-weight="bold" >LPS</text>
<text x="415.1" y="344.5" font-size="7.4" text-anchor="middle" font-weight="bold" >-</text>
<path d="M425.4 342.2 L445.1 337.8 L445.1 342.2 Z" fill="#fff" stroke="#000" stroke-width="1.7" stroke-linejoin="miter"/>
<text x="436.5" y="352.2" font-size="7.0" text-anchor="middle" font-weight="bold" >LPS</text>
<line x1="366.5" y1="356.4" x2="406.7" y2="356.4" stroke="#000" stroke-width="1.5"/>
<line x1="410.7" y1="356.4" x2="450.4" y2="356.4" stroke="#000" stroke-width="1.5"/>
<text x="407.8" y="367.2" font-size="7.6" text-anchor="end" font-weight="bold" >Purified-</text>
<text x="407.8" y="377.0" font-size="7.5" text-anchor="end" font-weight="bold" >BMMC</text>
<text x="450.0" y="367.2" font-size="7.5" text-anchor="end" font-weight="bold" >Whole-</text>
<text x="450.0" y="377.0" font-size="7.5" text-anchor="end" font-weight="bold" >BMMC</text>
<text x="0" y="0" font-size="8.8" font-weight="bold" text-anchor="middle" transform="translate(336,272) rotate(-90)">p40 (pg/mL)</text>
<rect x="456.8" y="213.6" width="7.8" height="6.6" fill="#ffffff" stroke="#000" stroke-width="0.9"/>
<text x="467.7" y="218.89999999999998" font-size="6.6" text-anchor="start" font-weight="bold" >Media</text>
<rect x="456.8" y="222.29999999999998" width="7.8" height="6.6" fill="#e4e4e4" stroke="#000" stroke-width="0.9"/>
<text x="467.7" y="227.59999999999997" font-size="6.6" text-anchor="start" font-weight="bold" >LPS 10 ng/mL</text>
<rect x="456.8" y="231.0" width="7.8" height="6.6" fill="#8a8a8a" stroke="#000" stroke-width="0.9"/>
<text x="467.7" y="236.29999999999998" font-size="6.6" text-anchor="start" font-weight="bold" >LPS 100 ng/mL</text>
<rect x="456.8" y="239.7" width="7.8" height="6.6" fill="#000000" stroke="#000" stroke-width="0.9"/>
<text x="467.7" y="244.99999999999997" font-size="6.6" text-anchor="start" font-weight="bold" >LPS 1000 ng/mL</text>
</svg>
</body></html>
